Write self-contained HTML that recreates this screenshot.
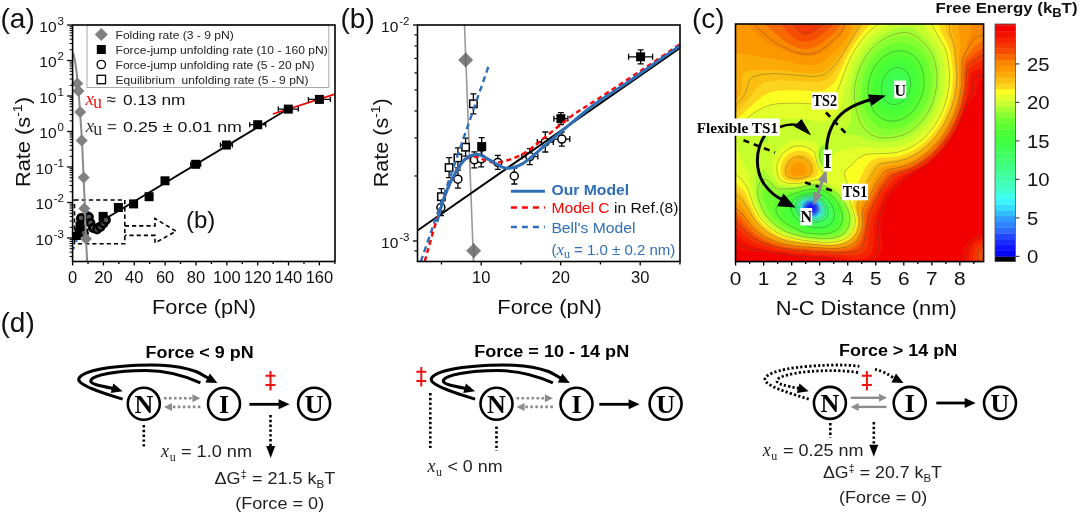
<!DOCTYPE html>
<html><head><meta charset="utf-8"><style>
html,body{margin:0;padding:0;background:#fff;overflow:hidden;}
svg{display:block;filter:blur(0.3px);}
.S{font-family:"Liberation Sans",sans-serif;}
.R{font-family:"Liberation Serif",serif;}
</style></head><body>
<svg width="1080" height="515" viewBox="0 0 1080 515">
<line x1="69.60" y1="256.56" x2="72.60" y2="256.56" stroke="#000" stroke-width="1.0"/>
<line x1="69.60" y1="252.13" x2="72.60" y2="252.13" stroke="#000" stroke-width="1.0"/>
<line x1="69.60" y1="248.69" x2="72.60" y2="248.69" stroke="#000" stroke-width="1.0"/>
<line x1="69.60" y1="245.88" x2="72.60" y2="245.88" stroke="#000" stroke-width="1.0"/>
<line x1="69.60" y1="243.50" x2="72.60" y2="243.50" stroke="#000" stroke-width="1.0"/>
<line x1="69.60" y1="241.44" x2="72.60" y2="241.44" stroke="#000" stroke-width="1.0"/>
<line x1="69.60" y1="239.62" x2="72.60" y2="239.62" stroke="#000" stroke-width="1.0"/>
<line x1="67.10" y1="238.00" x2="72.60" y2="238.00" stroke="#000" stroke-width="1.3"/>
<line x1="69.60" y1="227.31" x2="72.60" y2="227.31" stroke="#000" stroke-width="1.0"/>
<line x1="69.60" y1="221.06" x2="72.60" y2="221.06" stroke="#000" stroke-width="1.0"/>
<line x1="69.60" y1="216.63" x2="72.60" y2="216.63" stroke="#000" stroke-width="1.0"/>
<line x1="69.60" y1="213.19" x2="72.60" y2="213.19" stroke="#000" stroke-width="1.0"/>
<line x1="69.60" y1="210.38" x2="72.60" y2="210.38" stroke="#000" stroke-width="1.0"/>
<line x1="69.60" y1="208.00" x2="72.60" y2="208.00" stroke="#000" stroke-width="1.0"/>
<line x1="69.60" y1="205.94" x2="72.60" y2="205.94" stroke="#000" stroke-width="1.0"/>
<line x1="69.60" y1="204.12" x2="72.60" y2="204.12" stroke="#000" stroke-width="1.0"/>
<line x1="67.10" y1="202.50" x2="72.60" y2="202.50" stroke="#000" stroke-width="1.3"/>
<line x1="69.60" y1="191.81" x2="72.60" y2="191.81" stroke="#000" stroke-width="1.0"/>
<line x1="69.60" y1="185.56" x2="72.60" y2="185.56" stroke="#000" stroke-width="1.0"/>
<line x1="69.60" y1="181.13" x2="72.60" y2="181.13" stroke="#000" stroke-width="1.0"/>
<line x1="69.60" y1="177.69" x2="72.60" y2="177.69" stroke="#000" stroke-width="1.0"/>
<line x1="69.60" y1="174.88" x2="72.60" y2="174.88" stroke="#000" stroke-width="1.0"/>
<line x1="69.60" y1="172.50" x2="72.60" y2="172.50" stroke="#000" stroke-width="1.0"/>
<line x1="69.60" y1="170.44" x2="72.60" y2="170.44" stroke="#000" stroke-width="1.0"/>
<line x1="69.60" y1="168.62" x2="72.60" y2="168.62" stroke="#000" stroke-width="1.0"/>
<line x1="67.10" y1="167.00" x2="72.60" y2="167.00" stroke="#000" stroke-width="1.3"/>
<line x1="69.60" y1="156.31" x2="72.60" y2="156.31" stroke="#000" stroke-width="1.0"/>
<line x1="69.60" y1="150.06" x2="72.60" y2="150.06" stroke="#000" stroke-width="1.0"/>
<line x1="69.60" y1="145.63" x2="72.60" y2="145.63" stroke="#000" stroke-width="1.0"/>
<line x1="69.60" y1="142.19" x2="72.60" y2="142.19" stroke="#000" stroke-width="1.0"/>
<line x1="69.60" y1="139.38" x2="72.60" y2="139.38" stroke="#000" stroke-width="1.0"/>
<line x1="69.60" y1="137.00" x2="72.60" y2="137.00" stroke="#000" stroke-width="1.0"/>
<line x1="69.60" y1="134.94" x2="72.60" y2="134.94" stroke="#000" stroke-width="1.0"/>
<line x1="69.60" y1="133.12" x2="72.60" y2="133.12" stroke="#000" stroke-width="1.0"/>
<line x1="67.10" y1="131.50" x2="72.60" y2="131.50" stroke="#000" stroke-width="1.3"/>
<line x1="69.60" y1="120.81" x2="72.60" y2="120.81" stroke="#000" stroke-width="1.0"/>
<line x1="69.60" y1="114.56" x2="72.60" y2="114.56" stroke="#000" stroke-width="1.0"/>
<line x1="69.60" y1="110.13" x2="72.60" y2="110.13" stroke="#000" stroke-width="1.0"/>
<line x1="69.60" y1="106.69" x2="72.60" y2="106.69" stroke="#000" stroke-width="1.0"/>
<line x1="69.60" y1="103.88" x2="72.60" y2="103.88" stroke="#000" stroke-width="1.0"/>
<line x1="69.60" y1="101.50" x2="72.60" y2="101.50" stroke="#000" stroke-width="1.0"/>
<line x1="69.60" y1="99.44" x2="72.60" y2="99.44" stroke="#000" stroke-width="1.0"/>
<line x1="69.60" y1="97.62" x2="72.60" y2="97.62" stroke="#000" stroke-width="1.0"/>
<line x1="67.10" y1="96.00" x2="72.60" y2="96.00" stroke="#000" stroke-width="1.3"/>
<line x1="69.60" y1="85.31" x2="72.60" y2="85.31" stroke="#000" stroke-width="1.0"/>
<line x1="69.60" y1="79.06" x2="72.60" y2="79.06" stroke="#000" stroke-width="1.0"/>
<line x1="69.60" y1="74.63" x2="72.60" y2="74.63" stroke="#000" stroke-width="1.0"/>
<line x1="69.60" y1="71.19" x2="72.60" y2="71.19" stroke="#000" stroke-width="1.0"/>
<line x1="69.60" y1="68.38" x2="72.60" y2="68.38" stroke="#000" stroke-width="1.0"/>
<line x1="69.60" y1="66.00" x2="72.60" y2="66.00" stroke="#000" stroke-width="1.0"/>
<line x1="69.60" y1="63.94" x2="72.60" y2="63.94" stroke="#000" stroke-width="1.0"/>
<line x1="69.60" y1="62.12" x2="72.60" y2="62.12" stroke="#000" stroke-width="1.0"/>
<line x1="67.10" y1="60.50" x2="72.60" y2="60.50" stroke="#000" stroke-width="1.3"/>
<line x1="69.60" y1="49.81" x2="72.60" y2="49.81" stroke="#000" stroke-width="1.0"/>
<line x1="69.60" y1="43.56" x2="72.60" y2="43.56" stroke="#000" stroke-width="1.0"/>
<line x1="69.60" y1="39.13" x2="72.60" y2="39.13" stroke="#000" stroke-width="1.0"/>
<line x1="69.60" y1="35.69" x2="72.60" y2="35.69" stroke="#000" stroke-width="1.0"/>
<line x1="69.60" y1="32.88" x2="72.60" y2="32.88" stroke="#000" stroke-width="1.0"/>
<line x1="69.60" y1="30.50" x2="72.60" y2="30.50" stroke="#000" stroke-width="1.0"/>
<line x1="69.60" y1="28.44" x2="72.60" y2="28.44" stroke="#000" stroke-width="1.0"/>
<line x1="69.60" y1="26.62" x2="72.60" y2="26.62" stroke="#000" stroke-width="1.0"/>
<line x1="67.10" y1="25.00" x2="72.60" y2="25.00" stroke="#000" stroke-width="1.3"/>
<line x1="72.60" y1="261.50" x2="72.60" y2="265.50" stroke="#000" stroke-width="1.3"/>
<line x1="88.02" y1="261.50" x2="88.02" y2="264.00" stroke="#000" stroke-width="1.3"/>
<line x1="103.45" y1="261.50" x2="103.45" y2="265.50" stroke="#000" stroke-width="1.3"/>
<line x1="118.88" y1="261.50" x2="118.88" y2="264.00" stroke="#000" stroke-width="1.3"/>
<line x1="134.30" y1="261.50" x2="134.30" y2="265.50" stroke="#000" stroke-width="1.3"/>
<line x1="149.72" y1="261.50" x2="149.72" y2="264.00" stroke="#000" stroke-width="1.3"/>
<line x1="165.15" y1="261.50" x2="165.15" y2="265.50" stroke="#000" stroke-width="1.3"/>
<line x1="180.57" y1="261.50" x2="180.57" y2="264.00" stroke="#000" stroke-width="1.3"/>
<line x1="196.00" y1="261.50" x2="196.00" y2="265.50" stroke="#000" stroke-width="1.3"/>
<line x1="211.42" y1="261.50" x2="211.42" y2="264.00" stroke="#000" stroke-width="1.3"/>
<line x1="226.85" y1="261.50" x2="226.85" y2="265.50" stroke="#000" stroke-width="1.3"/>
<line x1="242.28" y1="261.50" x2="242.28" y2="264.00" stroke="#000" stroke-width="1.3"/>
<line x1="257.70" y1="261.50" x2="257.70" y2="265.50" stroke="#000" stroke-width="1.3"/>
<line x1="273.12" y1="261.50" x2="273.12" y2="264.00" stroke="#000" stroke-width="1.3"/>
<line x1="288.55" y1="261.50" x2="288.55" y2="265.50" stroke="#000" stroke-width="1.3"/>
<line x1="303.98" y1="261.50" x2="303.98" y2="264.00" stroke="#000" stroke-width="1.3"/>
<line x1="319.40" y1="261.50" x2="319.40" y2="265.50" stroke="#000" stroke-width="1.3"/>
<line x1="334.83" y1="261.50" x2="334.83" y2="264.00" stroke="#000" stroke-width="1.3"/>
<text class="S" x="72.6" y="283.3" font-size="16.5" text-anchor="middle" fill="#111">0</text>
<text class="S" x="103.4" y="283.3" font-size="16.5" text-anchor="middle" fill="#111">20</text>
<text class="S" x="134.3" y="283.3" font-size="16.5" text-anchor="middle" fill="#111">40</text>
<text class="S" x="165.1" y="283.3" font-size="16.5" text-anchor="middle" fill="#111">60</text>
<text class="S" x="196.0" y="283.3" font-size="16.5" text-anchor="middle" fill="#111">80</text>
<text class="S" x="226.8" y="283.3" font-size="16.5" text-anchor="middle" fill="#111">100</text>
<text class="S" x="257.7" y="283.3" font-size="16.5" text-anchor="middle" fill="#111">120</text>
<text class="S" x="288.5" y="283.3" font-size="16.5" text-anchor="middle" fill="#111">140</text>
<text class="S" x="319.4" y="283.3" font-size="16.5" text-anchor="middle" fill="#111">160</text>
<text class="S" x="64" y="244.5" font-size="15.5" text-anchor="end" fill="#111">10<tspan font-size="11.5" dx="1" dy="-7">-3</tspan></text>
<text class="S" x="64" y="209.0" font-size="15.5" text-anchor="end" fill="#111">10<tspan font-size="11.5" dx="1" dy="-7">-2</tspan></text>
<text class="S" x="64" y="173.5" font-size="15.5" text-anchor="end" fill="#111">10<tspan font-size="11.5" dx="1" dy="-7">-1</tspan></text>
<text class="S" x="64" y="138.0" font-size="15.5" text-anchor="end" fill="#111">10<tspan font-size="11.5" dx="1" dy="-7">0</tspan></text>
<text class="S" x="64" y="102.5" font-size="15.5" text-anchor="end" fill="#111">10<tspan font-size="11.5" dx="1" dy="-7">1</tspan></text>
<text class="S" x="64" y="67.0" font-size="15.5" text-anchor="end" fill="#111">10<tspan font-size="11.5" dx="1" dy="-7">2</tspan></text>
<text class="S" x="64" y="31.5" font-size="15.5" text-anchor="end" fill="#111">10<tspan font-size="11.5" dx="1" dy="-7">3</tspan></text>
<text class="S" x="152.0" y="314.3" font-size="20" textLength="104" lengthAdjust="spacingAndGlyphs" fill="#111">Force (pN)</text>
<text class="S" transform="translate(29.5,187) rotate(-90)" font-size="20" fill="#111" textLength="90" lengthAdjust="spacingAndGlyphs">Rate (s<tspan font-size="13" dy="-8">-1</tspan><tspan dy="8">)</tspan></text>
<text class="S" x="0.5" y="28.0" font-size="28" fill="#111">(a)</text>
<text class="S" x="186.0" y="228.2" font-size="24" fill="#111">(b)</text>
<rect x="87" y="25" width="241.8" height="62.5" fill="#fff" stroke="#aaa" stroke-width="1"/>
<path d="M94.8,34.5 L101.3,28.0 L107.8,34.5 L101.3,41.0Z" fill="#808080"/>
<rect x="96.8" y="45.0" width="9" height="9" fill="#000"/>
<circle cx="101.3" cy="64.5" r="4.2" fill="#fff" stroke="#000" stroke-width="1.3"/>
<rect x="97.1" y="75.3" width="8.4" height="8.4" fill="#fff" stroke="#000" stroke-width="1.3"/>
<text class="S" x="115.5" y="38.7" font-size="11.8" textLength="118.3" lengthAdjust="spacingAndGlyphs" fill="#222">Folding rate (3 - 9 pN)</text>
<text class="S" x="115.5" y="53.7" font-size="11.8" textLength="212.3" lengthAdjust="spacingAndGlyphs" fill="#222">Force-jump unfolding rate (10 - 160 pN)</text>
<text class="S" x="115.5" y="68.7" font-size="11.8" textLength="199" lengthAdjust="spacingAndGlyphs" fill="#222">Force-jump unfolding rate (5 - 20 pN)</text>
<text class="S" x="115.5" y="83.7" font-size="11.8" textLength="193" lengthAdjust="spacingAndGlyphs" fill="#222">Equilibrium&#160; unfolding rate (5 - 9 pN)</text>
<path d="M74.5,200 H124.8 V243.8 H74.5 Z" fill="none" stroke="#000" stroke-width="1.6" stroke-dasharray="4.2,3"/>
<path d="M124.8,225.9 H155 V218.5 L176,231.2 L155,243 V235.4 H124.8" fill="none" stroke="#000" stroke-width="1.6" stroke-dasharray="4.2,3"/>
<path d="M72.6,238.5 L288,109" fill="none" stroke="#000" stroke-width="1.8"/>
<path d="M272.8,114 L335,94.2" fill="none" stroke="#e00" stroke-width="1.8"/>
<circle cx="88.2" cy="212" r="1.3" fill="#2f6fc0"/>
<circle cx="78" cy="235.6" r="1.3" fill="#2f6fc0"/>
<circle cx="76.4" cy="241" r="1.3" fill="#2f6fc0"/>
<circle cx="73.6" cy="247.9" r="1.3" fill="#2f6fc0"/>
<path d="M308.4,99.4 H330.4 M308.4,96.9 V101.9 M330.4,96.9 V101.9" stroke="#000" stroke-width="1.3" fill="none"/>
<rect x="314.9" y="94.9" width="9" height="9" fill="#000"/>
<path d="M278.3,109.1 H298.3 M278.3,106.6 V111.6 M298.3,106.6 V111.6" stroke="#000" stroke-width="1.3" fill="none"/>
<rect x="283.8" y="104.6" width="9" height="9" fill="#000"/>
<path d="M249.7,124.7 H265.7 M249.7,122.2 V127.2 M265.7,122.2 V127.2" stroke="#000" stroke-width="1.3" fill="none"/>
<rect x="253.2" y="120.2" width="9" height="9" fill="#000"/>
<path d="M220.4,145 H232.4 M220.4,142.5 V147.5 M232.4,142.5 V147.5" stroke="#000" stroke-width="1.3" fill="none"/>
<rect x="221.9" y="140.5" width="9" height="9" fill="#000"/>
<path d="M190.7,164.3 H200.7 M190.7,161.8 V166.8 M200.7,161.8 V166.8" stroke="#000" stroke-width="1.3" fill="none"/>
<rect x="191.2" y="159.8" width="9" height="9" fill="#000"/>
<path d="M162,180.8 H168 M162,178.3 V183.3 M168,178.3 V183.3" stroke="#000" stroke-width="1.3" fill="none"/>
<rect x="160.5" y="176.3" width="9" height="9" fill="#000"/>
<path d="M147.1,196.7 H151.1 M147.1,194.2 V199.2 M151.1,194.2 V199.2" stroke="#000" stroke-width="1.3" fill="none"/>
<rect x="144.6" y="192.2" width="9" height="9" fill="#000"/>
<path d="M131.6,203.9 H135.6 M131.6,201.4 V206.4 M135.6,201.4 V206.4" stroke="#000" stroke-width="1.3" fill="none"/>
<rect x="129.1" y="199.4" width="9" height="9" fill="#000"/>
<path d="M116.4,207.5 H120.4 M116.4,205.0 V210.0 M120.4,205.0 V210.0" stroke="#000" stroke-width="1.3" fill="none"/>
<rect x="113.9" y="203.0" width="9" height="9" fill="#000"/>
<path d="M101.1,216.4 H105.1 M101.1,213.9 V218.9 M105.1,213.9 V218.9" stroke="#000" stroke-width="1.3" fill="none"/>
<rect x="98.6" y="211.9" width="9" height="9" fill="#000"/>
<rect x="74.5" y="228" width="8" height="8" fill="#000"/>
<rect x="75.5" y="222" width="8" height="8" fill="#000"/>
<rect x="76.5" y="217" width="8" height="8" fill="#000"/>
<rect x="78" y="225" width="8" height="8" fill="#000"/>
<rect x="73" y="232" width="8" height="8" fill="#000"/>
<circle cx="89" cy="217" r="3.6" fill="#555" stroke="#000" stroke-width="2.6"/>
<circle cx="90.5" cy="223" r="3.6" fill="#555" stroke="#000" stroke-width="2.6"/>
<circle cx="93" cy="228" r="3.6" fill="#555" stroke="#000" stroke-width="2.6"/>
<circle cx="97" cy="229.5" r="3.6" fill="#555" stroke="#000" stroke-width="2.6"/>
<circle cx="100.5" cy="227" r="3.6" fill="#555" stroke="#000" stroke-width="2.6"/>
<circle cx="103.5" cy="223.5" r="3.6" fill="#555" stroke="#000" stroke-width="2.6"/>
<circle cx="106" cy="220" r="3.6" fill="#555" stroke="#000" stroke-width="2.6"/>
<circle cx="84" cy="233" r="3.6" fill="#555" stroke="#000" stroke-width="2.6"/>
<circle cx="81" cy="218" r="3.6" fill="#555" stroke="#000" stroke-width="2.6"/>
<path d="M73.2,53 C76,62 77,75 78,86 C79.5,100 80.5,120 82,140 C83,160 84,185 85,210 C85.6,230 86.5,250 87.2,261.5" fill="none" stroke="#8a8a8a" stroke-width="2"/>
<path d="M71.3,83.5 L77.3,77.5 L83.3,83.5 L77.3,89.5Z" fill="#808080"/>
<path d="M72.5,91 L78.5,85 L84.5,91 L78.5,97Z" fill="#808080"/>
<path d="M74.2,112 L80.2,106 L86.2,112 L80.2,118Z" fill="#808080"/>
<path d="M75.7,140.6 L81.7,134.6 L87.7,140.6 L81.7,146.6Z" fill="#808080"/>
<path d="M77.7,177.5 L83.7,171.5 L89.7,177.5 L83.7,183.5Z" fill="#808080"/>
<path d="M78.4,208.4 L84.4,202.4 L90.4,208.4 L84.4,214.4Z" fill="#808080"/>
<path d="M80,238.8 L86,232.8 L92,238.8 L86,244.8Z" fill="#808080"/>
<text class="R" x="85.5" y="104.7" font-size="19" font-style="italic" fill="#e11">x</text>
<text class="R" x="93" y="108.2" font-size="18" fill="#e11">u</text>
<text class="S" x="106.5" y="104.7" font-size="17" fill="#222">&#8776;</text>
<text class="S" x="123.0" y="104.7" font-size="15" textLength="62.5" lengthAdjust="spacingAndGlyphs" fill="#111">0.13 nm</text>
<text class="R" x="85.8" y="131.7" font-size="19" font-style="italic" fill="#333">x</text>
<text class="R" x="93.3" y="135.2" font-size="18" fill="#333">u</text>
<text class="S" x="107" y="131.7" font-size="17" fill="#444">=</text>
<text class="S" x="123.0" y="131.7" font-size="15" textLength="119" lengthAdjust="spacingAndGlyphs" fill="#111">0.25 &#177; 0.01 nm</text>
<rect x="72.6" y="25.0" width="262.4" height="236.5" fill="none" stroke="#000" stroke-width="1.6"/>
<line x1="413.00" y1="25.00" x2="417.50" y2="25.00" stroke="#000" stroke-width="1.3"/>
<line x1="413.00" y1="241.00" x2="417.50" y2="241.00" stroke="#000" stroke-width="1.3"/>
<line x1="414.50" y1="175.98" x2="417.50" y2="175.98" stroke="#000" stroke-width="1.2"/>
<line x1="414.50" y1="137.94" x2="417.50" y2="137.94" stroke="#000" stroke-width="1.2"/>
<line x1="414.50" y1="110.96" x2="417.50" y2="110.96" stroke="#000" stroke-width="1.2"/>
<line x1="414.50" y1="90.02" x2="417.50" y2="90.02" stroke="#000" stroke-width="1.2"/>
<line x1="414.50" y1="72.92" x2="417.50" y2="72.92" stroke="#000" stroke-width="1.2"/>
<line x1="414.50" y1="58.46" x2="417.50" y2="58.46" stroke="#000" stroke-width="1.2"/>
<line x1="414.50" y1="45.93" x2="417.50" y2="45.93" stroke="#000" stroke-width="1.2"/>
<line x1="414.50" y1="250.88" x2="417.50" y2="250.88" stroke="#000" stroke-width="1.2"/>
<line x1="414.50" y1="34.88" x2="417.50" y2="34.88" stroke="#000" stroke-width="1.2"/>
<line x1="441.45" y1="261.50" x2="441.45" y2="264.50" stroke="#000" stroke-width="1.3"/>
<line x1="481.20" y1="261.50" x2="481.20" y2="265.50" stroke="#000" stroke-width="1.3"/>
<line x1="520.95" y1="261.50" x2="520.95" y2="264.50" stroke="#000" stroke-width="1.3"/>
<line x1="560.70" y1="261.50" x2="560.70" y2="265.50" stroke="#000" stroke-width="1.3"/>
<line x1="600.45" y1="261.50" x2="600.45" y2="264.50" stroke="#000" stroke-width="1.3"/>
<line x1="640.20" y1="261.50" x2="640.20" y2="265.50" stroke="#000" stroke-width="1.3"/>
<line x1="679.95" y1="261.50" x2="679.95" y2="264.50" stroke="#000" stroke-width="1.3"/>
<text class="S" x="481.2" y="283.3" font-size="16.5" text-anchor="middle" fill="#111">10</text>
<text class="S" x="560.7" y="283.3" font-size="16.5" text-anchor="middle" fill="#111">20</text>
<text class="S" x="640.2" y="283.3" font-size="16.5" text-anchor="middle" fill="#111">30</text>
<text class="S" x="409.5" y="31.5" font-size="15.5" text-anchor="end" fill="#111">10<tspan font-size="11.5" dx="1" dy="-7">-2</tspan></text>
<text class="S" x="409.5" y="247.5" font-size="15.5" text-anchor="end" fill="#111">10<tspan font-size="11.5" dx="1" dy="-7">-3</tspan></text>
<text class="S" x="497.3" y="314.4" font-size="20" textLength="104.5" lengthAdjust="spacingAndGlyphs" fill="#111">Force (pN)</text>
<text class="S" transform="translate(388,187.2) rotate(-90)" font-size="20" fill="#111" textLength="89" lengthAdjust="spacingAndGlyphs">Rate (s<tspan font-size="13" dy="-8">-1</tspan><tspan dy="8">)</tspan></text>
<text class="S" x="340.5" y="28.0" font-size="28" fill="#111">(b)</text>
<path d="M464.5,25 L473.5,261.5" stroke="#999" stroke-width="1.6" fill="none"/>
<path d="M458.1,60.1 L465.6,52.6 L473.1,60.1 L465.6,67.6Z" fill="#7f7f7f"/>
<path d="M465.6,52.6 L465.6,67.6" stroke="#666" stroke-width="1.2"/>
<path d="M466.2,250.7 L473.7,243.2 L481.2,250.7 L473.7,258.2Z" fill="#7f7f7f"/>
<path d="M473.7,243.2 L473.7,258.2" stroke="#666" stroke-width="1.2"/>
<path d="M441.4,188.7 V204.7 M438.4,188.7 H444.4 M438.4,204.7 H444.4" stroke="#000" stroke-width="1.3" fill="none"/>
<path d="M449.1,157.6 V177.6 M446.1,157.6 H452.1 M446.1,177.6 H452.1" stroke="#000" stroke-width="1.3" fill="none"/>
<path d="M457.9,147.9 V167.9 M454.9,147.9 H460.9 M454.9,167.9 H460.9" stroke="#000" stroke-width="1.3" fill="none"/>
<path d="M465.6,138.2 V156.2 M462.6,138.2 H468.6 M462.6,156.2 H468.6" stroke="#000" stroke-width="1.3" fill="none"/>
<path d="M473.4,93.8 V113.8 M470.4,93.8 H476.4 M470.4,113.8 H476.4" stroke="#000" stroke-width="1.3" fill="none"/>
<path d="M440.9,199.5 V215.5 M437.9,199.5 H443.9 M437.9,215.5 H443.9" stroke="#000" stroke-width="1.3" fill="none"/>
<path d="M457.9,170.2 V188.2 M454.9,170.2 H460.9 M454.9,188.2 H460.9" stroke="#000" stroke-width="1.3" fill="none"/>
<path d="M474.4,151.8 V167.8 M471.4,151.8 H477.4 M471.4,167.8 H477.4" stroke="#000" stroke-width="1.3" fill="none"/>
<path d="M481.2,150.8 V166.8 M478.2,150.8 H484.2 M478.2,166.8 H484.2" stroke="#000" stroke-width="1.3" fill="none"/>
<path d="M497.8,155.4 V169.4 M494.8,155.4 H500.8 M494.8,169.4 H500.8" stroke="#000" stroke-width="1.3" fill="none"/>
<path d="M514.3,168 V184 M511.29999999999995,168 H517.3 M511.29999999999995,184 H517.3" stroke="#000" stroke-width="1.3" fill="none"/>
<path d="M529.8,148.6 V164.6 M526.8,148.6 H532.8 M526.8,164.6 H532.8" stroke="#000" stroke-width="1.3" fill="none"/>
<path d="M545.3,132 V152 M542.3,132 H548.3 M542.3,152 H548.3" stroke="#000" stroke-width="1.3" fill="none"/>
<path d="M561.8,132.1 V146.1 M558.8,132.1 H564.8 M558.8,146.1 H564.8" stroke="#000" stroke-width="1.3" fill="none"/>
<path d="M521.8,156.6 H537.8 M521.8,153.6 V159.6 M537.8,153.6 V159.6" stroke="#000" stroke-width="1.3" fill="none"/>
<path d="M537.3,142 H553.3 M537.3,139 V145 M553.3,139 V145" stroke="#000" stroke-width="1.3" fill="none"/>
<path d="M553.8,139.1 H569.8 M553.8,136.1 V142.1 M569.8,136.1 V142.1" stroke="#000" stroke-width="1.3" fill="none"/>
<path d="M481.7,137.6 V155.6 M478.7,137.6 H484.7 M478.7,155.6 H484.7" stroke="#000" stroke-width="1.3" fill="none"/>
<path d="M560.9,112.7 V124.7 M557.9,112.7 H563.9 M557.9,124.7 H563.9 M553.9,118.7 H567.9 M553.9,115.7 V121.7 M567.9,115.7 V121.7" stroke="#000" stroke-width="1.3" fill="none"/>
<path d="M640.6,49.8 V63.8 M637.6,49.8 H643.6 M637.6,63.8 H643.6 M628.6,56.8 H652.6 M628.6,53.8 V59.8 M652.6,53.8 V59.8" stroke="#000" stroke-width="1.3" fill="none"/>
<circle cx="440.9" cy="207.5" r="4" fill="#fff" stroke="#000" stroke-width="1.5"/>
<circle cx="457.9" cy="179.2" r="4" fill="#fff" stroke="#000" stroke-width="1.5"/>
<circle cx="474.4" cy="159.8" r="4" fill="#fff" stroke="#000" stroke-width="1.5"/>
<circle cx="481.2" cy="158.8" r="4" fill="#fff" stroke="#000" stroke-width="1.5"/>
<circle cx="497.8" cy="162.4" r="4" fill="#fff" stroke="#000" stroke-width="1.5"/>
<circle cx="514.3" cy="176" r="4" fill="#fff" stroke="#000" stroke-width="1.5"/>
<circle cx="529.8" cy="156.6" r="4" fill="#fff" stroke="#000" stroke-width="1.5"/>
<circle cx="545.3" cy="142" r="4" fill="#fff" stroke="#000" stroke-width="1.5"/>
<circle cx="561.8" cy="139.1" r="4" fill="#fff" stroke="#000" stroke-width="1.5"/>
<rect x="437.7" y="193.0" width="7.4" height="7.4" fill="#fff" stroke="#000" stroke-width="1.5"/>
<rect x="445.40000000000003" y="163.9" width="7.4" height="7.4" fill="#fff" stroke="#000" stroke-width="1.5"/>
<rect x="454.2" y="154.20000000000002" width="7.4" height="7.4" fill="#fff" stroke="#000" stroke-width="1.5"/>
<rect x="461.90000000000003" y="143.5" width="7.4" height="7.4" fill="#fff" stroke="#000" stroke-width="1.5"/>
<rect x="469.7" y="100.1" width="7.4" height="7.4" fill="#fff" stroke="#000" stroke-width="1.5"/>
<rect x="477.2" y="142.1" width="9" height="9" fill="#000"/>
<rect x="556.4" y="114.2" width="9" height="9" fill="#000"/>
<rect x="636.1" y="52.3" width="9" height="9" fill="#000"/>
<path d="M417.5,230.5 L680,48" stroke="#000" stroke-width="2" fill="none"/>
<path d="M420.8,261.5 L488.3,66.9" stroke="#2e6fb8" stroke-width="2.4" stroke-dasharray="6,4" fill="none"/>
<path d="M424.8,261.0 C426.8,254.1 432.8,232.3 436.9,219.6 C441.0,206.9 445.3,194.4 449.5,185.0 C453.7,175.6 458.1,167.8 462.0,163.0 C465.9,158.2 469.3,157.0 473.0,156.5 C476.7,156.0 479.8,158.8 484.0,159.8 C488.2,160.8 491.8,163.4 498.2,162.5 C504.6,161.6 514.9,158.2 522.6,154.1 C530.3,150.0 536.1,144.1 544.3,137.8 C552.4,131.5 562.4,122.7 571.5,116.1 C580.6,109.5 587.4,105.8 598.7,98.4 C610.0,91.0 625.9,80.7 639.5,71.6 C653.1,62.5 673.4,48.6 680.2,44.0" stroke="#f00" stroke-width="2.4" stroke-dasharray="5,3.5" fill="none"/>
<path d="M437.0,222.0 C438.3,217.5 441.9,203.3 445.0,195.0 C448.1,186.7 452.3,178.1 455.8,172.0 C459.3,165.9 462.3,161.4 466.0,158.5 C469.7,155.6 473.7,154.2 477.8,154.5 C481.9,154.8 485.6,158.1 490.4,160.4 C495.1,162.7 500.9,167.7 506.3,168.2 C511.7,168.7 516.3,167.3 522.6,163.6 C528.9,159.9 537.5,151.7 544.3,146.0 C551.1,140.3 555.2,136.5 563.4,129.7 C571.6,122.9 582.9,112.9 593.3,105.2 C603.7,97.5 615.9,90.3 625.9,83.5 C635.9,76.7 644.0,70.8 653.0,64.5 C662.0,58.1 675.7,48.6 680.2,45.4" stroke="#2e6fb8" stroke-width="3" fill="none"/>
<line x1="510.90" y1="191.20" x2="544.90" y2="191.20" stroke="#2e6fb8" stroke-width="3"/>
<text class="S" x="551.4" y="194.6" font-size="15" font-weight="bold" textLength="77.8" lengthAdjust="spacingAndGlyphs" fill="#2e6fb8">Our Model</text>
<path d="M510.9,207.5 H544.9" stroke="#f00" stroke-width="2.5" stroke-dasharray="6,5"/>
<text class="S" x="551.4" y="213.2" font-size="15" fill="#f00" textLength="127" lengthAdjust="spacingAndGlyphs">Model C <tspan fill="#111">in Ref.(8)</tspan></text>
<path d="M510.9,226.9 H544.9" stroke="#2e6fb8" stroke-width="2.5" stroke-dasharray="6,5"/>
<text class="S" x="551.4" y="233.0" font-size="15" textLength="84" lengthAdjust="spacingAndGlyphs" fill="#2e6fb8">Bell's Model</text>
<text class="S" x="551.4" y="255" font-size="15" fill="#2e6fb8">(<tspan class="R" font-style="italic" font-size="17">x</tspan><tspan class="R" font-size="12" dy="3">u</tspan><tspan dy="-3"> = 1.0 &#177; 0.2 nm)</tspan></text>
<rect x="417.5" y="25.0" width="262.5" height="236.5" fill="none" stroke="#000" stroke-width="1.6"/>
<clipPath id="hc"><rect x="735.5" y="24.0" width="248.1" height="237.6"/></clipPath>
<g clip-path="url(#hc)">
<rect x="735.5" y="24.0" width="248.1" height="237.6" fill="#f20000"/>
<path d="M871.1,261.6 L873.5,260.5 L877.5,257.0 L880.9,253.0 L882.3,250.0 L882.8,245.0 L880.6,231.0 L880.8,222.0 L883.1,212.0 L888.7,197.0 L891.5,193.4 L906.3,178.0 L920.5,169.6 L929.5,163.2 L937.6,156.0 L944.8,148.0 L950.7,140.0 L956.0,131.0 L960.8,121.0 L967.5,104.6 L975.5,95.0 L976.9,91.0 L978.5,82.6 L980.5,80.5 L983.5,79.3 L983.6,24.0 L735.5,24.0 L735.5,247.8 L739.5,249.6 L748.5,251.2 L764.5,252.4 L774.5,254.4 L784.5,254.8 L805.5,258.7 L824.5,258.0 L830.4,259.0 L839.5,261.6 L871.1,261.6ZM983.6,261.6 L983.6,231.2 L983.5,232.0 L972.5,238.3 L968.5,241.8 L965.9,245.0 L964.2,248.0 L962.9,252.0 L962.3,261.6 L983.6,261.6Z" fill="#f41000" fill-rule="evenodd"/>
<path d="M863.0,259.0 L866.5,257.6 L868.8,256.0 L871.2,253.0 L872.6,250.0 L873.5,245.0 L873.5,231.1 L875.5,219.0 L877.7,212.0 L885.5,193.3 L899.7,178.0 L920.5,167.5 L927.5,162.7 L934.3,157.0 L940.2,151.0 L946.0,144.0 L951.4,136.0 L955.9,128.0 L962.0,114.0 L968.1,95.0 L970.8,74.0 L971.5,72.8 L973.9,71.0 L983.6,67.5 L983.6,24.0 L735.5,24.0 L735.5,234.4 L743.1,241.0 L749.5,244.7 L756.5,247.1 L773.5,251.2 L795.5,254.3 L804.5,254.0 L814.5,255.7 L825.5,255.5 L851.5,259.7 L857.5,259.8 L863.0,259.0ZM983.6,261.6 L983.6,237.1 L983.5,237.6 L975.8,242.0 L971.9,246.0 L969.5,251.0 L968.6,257.0 L968.9,261.6 L983.6,261.6Z" fill="#f52300" fill-rule="evenodd"/>
<path d="M857.1,255.0 L860.8,254.0 L863.5,252.5 L866.5,248.3 L867.7,244.0 L868.5,234.0 L872.0,216.0 L880.9,195.0 L884.5,189.2 L895.5,177.0 L916.5,167.9 L923.5,163.7 L930.9,158.0 L937.5,151.7 L943.4,145.0 L948.5,137.9 L953.3,130.0 L959.8,116.0 L964.8,100.0 L967.0,89.0 L968.8,70.0 L970.0,68.0 L972.5,66.0 L983.6,60.3 L983.6,24.0 L735.5,24.0 L735.5,227.4 L746.5,237.2 L752.5,241.4 L759.5,244.4 L774.5,248.9 L795.5,252.1 L805.5,252.1 L815.5,253.6 L825.5,253.5 L838.5,255.1 L852.5,255.4 L857.1,255.0ZM983.6,261.6 L983.6,241.4 L978.5,245.0 L975.8,248.0 L973.9,252.0 L973.4,256.0 L974.1,261.6 L983.6,261.6Z" fill="#f53700" fill-rule="evenodd"/>
<path d="M851.7,252.0 L855.5,251.2 L858.5,249.8 L860.7,248.0 L862.5,245.4 L864.0,241.0 L866.7,228.0 L868.2,217.0 L869.4,213.0 L879.9,191.0 L887.5,180.7 L890.7,177.0 L893.3,175.0 L912.5,168.1 L920.1,164.0 L927.2,159.0 L934.1,153.0 L940.5,146.2 L946.0,139.0 L951.1,131.0 L958.3,116.0 L963.1,101.0 L965.5,88.0 L966.6,70.0 L967.5,66.0 L969.5,63.4 L972.5,61.0 L983.6,54.0 L983.6,24.0 L824.9,24.0 L812.0,32.0 L808.5,33.5 L805.5,34.0 L802.5,33.3 L799.5,31.5 L796.5,28.6 L793.0,24.0 L735.5,24.0 L735.5,221.5 L748.5,234.0 L754.5,238.6 L762.5,242.6 L774.5,246.7 L793.5,250.1 L805.5,250.6 L814.5,251.7 L825.5,251.8 L837.5,252.9 L851.7,252.0ZM983.6,261.6 L983.6,245.6 L979.3,250.0 L978.3,252.0 L977.7,255.0 L978.3,259.0 L979.5,261.6 L983.6,261.6Z" fill="#f54c00" fill-rule="evenodd"/>
<path d="M838.3,251.0 L847.5,250.0 L852.5,248.9 L856.5,246.8 L859.5,243.6 L861.5,239.3 L864.4,230.0 L865.2,225.0 L865.6,216.0 L867.0,211.0 L878.5,188.2 L887.5,176.0 L891.5,173.0 L903.5,169.7 L911.5,166.7 L923.1,160.0 L929.6,155.0 L936.5,148.3 L942.5,141.2 L947.5,134.1 L955.5,119.0 L958.6,111.0 L961.3,102.0 L964.1,87.0 L964.9,67.0 L965.9,63.0 L968.5,59.5 L974.5,53.9 L978.5,50.8 L983.6,48.0 L983.6,24.0 L833.6,24.0 L829.5,28.6 L815.5,38.7 L810.5,41.0 L805.5,41.8 L799.5,40.8 L793.5,37.7 L788.1,33.0 L780.6,24.0 L735.5,24.0 L735.5,216.1 L740.5,220.6 L749.8,231.0 L754.5,235.1 L762.5,240.0 L772.5,244.1 L781.5,246.5 L794.5,248.6 L815.5,250.2 L838.3,251.0ZM983.6,259.0 L983.6,250.5 L982.2,255.0 L983.6,259.7 L983.6,259.0Z" fill="#f76900" fill-rule="evenodd"/>
<path d="M841.9,249.0 L848.5,247.7 L852.5,246.2 L855.6,244.0 L858.7,240.0 L861.5,234.1 L863.1,229.0 L863.8,223.0 L863.5,214.0 L864.6,210.0 L876.8,186.0 L885.3,174.0 L887.5,172.0 L889.6,171.0 L901.5,168.3 L908.5,165.9 L914.8,163.0 L921.5,159.0 L928.5,153.7 L935.5,147.0 L941.4,140.0 L946.5,132.7 L950.5,125.8 L954.5,117.4 L957.6,109.0 L960.2,100.0 L962.7,85.0 L963.1,65.0 L963.8,61.0 L965.5,57.7 L973.5,47.6 L977.5,44.2 L983.6,41.0 L983.6,24.0 L840.7,24.0 L838.5,28.2 L835.5,32.0 L820.5,44.1 L813.5,47.8 L809.5,48.8 L805.5,49.0 L801.5,48.7 L796.5,47.4 L787.4,43.0 L779.2,37.0 L765.0,24.0 L735.5,24.0 L735.5,211.0 L740.5,215.3 L749.9,227.0 L756.0,233.0 L763.5,238.0 L773.5,242.5 L782.5,245.0 L795.5,247.2 L830.5,249.5 L841.9,249.0Z" fill="#f98700" fill-rule="evenodd"/>
<path d="M838.3,248.0 L846.5,246.4 L851.5,244.3 L855.5,241.0 L858.5,236.8 L860.8,232.0 L862.1,227.0 L862.4,222.0 L861.6,213.0 L862.5,208.6 L874.7,184.0 L882.9,172.0 L885.2,170.0 L887.5,168.9 L899.5,166.7 L907.5,164.2 L914.5,161.0 L920.5,157.4 L927.7,152.0 L934.5,145.5 L940.8,138.0 L946.5,129.5 L953.5,115.4 L958.5,100.0 L961.2,83.0 L961.5,59.4 L968.5,41.0 L970.2,34.0 L971.5,24.0 L847.0,24.0 L844.2,31.0 L841.5,35.4 L836.5,40.6 L827.1,49.0 L822.5,52.4 L817.5,54.9 L812.5,56.3 L807.5,56.7 L801.5,56.3 L794.5,54.6 L772.5,45.6 L767.0,42.0 L755.5,32.8 L746.6,24.0 L735.5,24.0 L735.5,206.2 L742.5,212.5 L750.8,224.0 L756.5,230.2 L764.3,236.0 L773.5,240.5 L783.5,243.7 L795.5,245.8 L826.5,248.1 L838.3,248.0Z" fill="#fb9800" fill-rule="evenodd"/>
<path d="M835.6,247.0 L843.5,245.7 L849.5,243.5 L854.1,240.0 L857.8,235.0 L860.0,230.0 L861.0,225.0 L861.0,220.0 L859.8,211.0 L860.5,206.8 L872.5,182.0 L880.5,169.8 L882.5,168.0 L885.5,166.7 L897.5,164.8 L906.5,162.3 L913.5,159.2 L920.4,155.0 L927.5,149.5 L934.5,142.6 L940.7,135.0 L946.5,125.8 L950.9,117.0 L954.5,107.5 L957.1,98.0 L958.9,88.0 L959.7,76.0 L959.1,59.0 L960.7,45.0 L958.8,31.0 L958.7,24.0 L852.9,24.0 L849.7,32.0 L847.1,37.0 L842.5,43.5 L836.5,50.4 L829.5,57.1 L824.5,60.9 L819.5,63.4 L813.5,64.9 L807.5,65.1 L800.5,64.4 L781.5,59.9 L764.5,57.5 L750.5,54.5 L740.5,53.7 L735.5,53.9 L735.5,201.2 L739.5,204.4 L742.5,207.7 L752.3,222.0 L757.5,228.0 L764.5,233.7 L773.5,238.6 L783.0,242.0 L795.5,244.4 L824.5,247.0 L835.6,247.0ZM802.5,175.3 L796.5,175.9 L793.5,175.3 L791.4,174.0 L790.4,172.0 L790.6,169.0 L791.5,166.7 L793.5,164.3 L796.5,162.6 L799.5,162.4 L802.5,163.4 L804.5,165.1 L806.2,168.0 L806.5,171.1 L805.1,174.0 L802.5,175.3Z" fill="#fbaa06" fill-rule="evenodd"/>
<path d="M833.5,246.0 L841.5,244.8 L848.5,242.3 L852.9,239.0 L856.7,234.0 L858.9,229.0 L859.7,224.0 L859.5,218.1 L857.8,209.0 L858.4,205.0 L864.3,193.0 L869.4,181.0 L873.9,173.0 L877.5,167.8 L880.5,165.3 L883.5,164.1 L896.5,162.5 L905.5,160.1 L912.5,157.1 L918.5,153.6 L926.5,147.5 L933.5,140.6 L940.3,132.0 L945.8,123.0 L950.4,113.0 L953.8,103.0 L956.3,92.0 L957.5,81.3 L957.6,71.0 L956.2,49.0 L955.1,43.0 L951.8,32.0 L951.5,24.0 L858.5,24.0 L852.3,36.0 L838.5,57.3 L829.5,67.1 L825.5,70.3 L822.5,72.0 L816.5,73.5 L809.5,73.7 L778.5,70.1 L757.5,70.0 L750.5,70.6 L746.5,71.5 L743.9,73.0 L742.5,75.0 L741.9,78.0 L742.1,87.0 L741.6,91.0 L739.9,95.0 L735.5,101.1 L735.5,196.1 L739.5,198.9 L742.5,202.3 L753.5,219.7 L758.5,225.9 L765.5,231.9 L773.5,236.7 L782.5,240.3 L794.9,243.0 L822.5,245.8 L833.5,246.0ZM798.5,178.1 L793.5,177.9 L789.5,176.5 L787.1,174.0 L786.6,171.0 L787.6,166.0 L790.2,162.0 L794.4,159.0 L798.5,158.1 L802.5,158.8 L806.5,161.3 L809.5,165.3 L810.5,170.0 L809.9,173.0 L807.5,175.7 L803.5,177.3 L798.5,178.1Z" fill="#fbbf12" fill-rule="evenodd"/>
<path d="M831.1,245.0 L839.5,244.0 L846.5,241.7 L851.5,238.2 L855.6,233.0 L857.7,228.0 L858.5,222.0 L858.0,217.0 L855.7,207.0 L856.3,202.0 L865.0,181.0 L870.8,170.0 L874.4,165.0 L877.5,162.6 L880.5,161.4 L894.9,160.0 L903.5,158.0 L910.5,155.2 L916.5,151.9 L924.6,146.0 L932.5,138.2 L938.9,130.0 L944.5,120.6 L949.2,110.0 L952.5,99.5 L954.5,89.0 L955.4,77.0 L954.9,66.0 L952.9,50.0 L950.8,43.0 L946.0,32.0 L945.1,24.0 L864.2,24.0 L849.6,46.0 L836.5,69.2 L832.5,74.3 L827.5,78.6 L822.5,81.1 L816.5,82.2 L780.5,80.2 L771.5,80.9 L764.5,82.6 L760.5,84.6 L757.5,87.1 L749.2,98.0 L735.5,113.5 L735.5,190.1 L740.5,193.5 L742.9,196.0 L756.4,220.0 L761.6,226.0 L767.6,231.0 L775.5,235.7 L782.5,238.7 L789.5,240.6 L799.5,242.3 L822.5,244.8 L831.1,245.0ZM798.5,180.0 L792.5,179.8 L786.5,177.7 L784.1,175.0 L783.4,170.0 L784.9,164.0 L788.5,158.8 L793.5,155.4 L799.5,154.3 L804.5,155.5 L809.6,159.0 L813.0,164.0 L814.4,170.0 L813.4,174.0 L811.5,176.2 L806.5,178.3 L798.5,180.0Z" fill="#fcd41e" fill-rule="evenodd"/>
<path d="M838.0,243.0 L844.5,241.0 L849.5,238.0 L853.1,234.0 L855.5,229.6 L856.8,225.0 L857.0,220.0 L856.2,215.0 L853.3,205.0 L853.4,199.0 L858.8,181.0 L865.8,167.0 L868.5,163.0 L871.5,160.4 L875.5,158.6 L880.5,157.6 L893.5,156.9 L899.5,155.9 L908.0,153.0 L915.6,149.0 L924.5,142.4 L932.5,134.1 L939.5,124.2 L944.5,114.7 L948.6,104.0 L951.5,92.0 L952.7,81.0 L952.6,70.0 L951.2,58.0 L949.5,49.8 L946.9,43.0 L940.7,31.0 L938.6,24.0 L870.5,24.0 L862.5,32.9 L854.3,44.0 L847.4,56.0 L836.5,79.5 L833.5,83.6 L828.5,88.0 L823.5,90.7 L818.5,91.7 L802.5,90.4 L786.5,90.2 L777.5,90.9 L769.5,92.8 L765.5,94.5 L760.5,98.1 L746.5,110.0 L739.5,117.2 L735.5,120.5 L735.5,183.2 L741.5,187.9 L745.5,192.5 L753.6,211.0 L757.0,217.0 L760.5,221.7 L765.8,227.0 L772.6,232.0 L779.9,236.0 L786.5,238.4 L799.5,241.1 L821.5,243.6 L830.5,243.9 L838.0,243.0ZM802.5,181.1 L794.5,181.9 L787.5,180.8 L784.5,179.5 L782.6,178.0 L780.7,174.0 L780.5,167.0 L781.6,163.0 L783.1,160.0 L785.5,156.8 L788.5,154.1 L791.5,152.2 L795.5,150.7 L799.5,150.4 L803.5,151.0 L807.5,152.6 L811.5,155.5 L813.5,157.9 L814.5,160.1 L818.2,171.0 L818.1,174.0 L815.6,177.0 L802.5,181.1Z" fill="#fbff21" fill-rule="evenodd"/>
<path d="M835.7,242.0 L842.9,240.0 L848.5,236.6 L852.9,231.0 L855.2,224.0 L855.3,220.0 L854.6,215.0 L849.9,201.0 L848.0,186.0 L844.5,175.0 L844.5,172.8 L845.9,170.0 L857.7,159.0 L864.5,154.8 L869.6,154.0 L890.5,153.2 L896.5,152.5 L905.4,150.0 L913.5,146.0 L922.5,139.5 L930.5,131.2 L937.5,121.2 L942.5,111.4 L946.5,100.0 L948.7,89.0 L949.6,77.0 L948.8,65.0 L947.2,55.0 L945.0,48.0 L941.5,41.0 L934.2,29.0 L932.0,24.0 L877.9,24.0 L871.5,29.2 L866.5,34.1 L860.5,41.3 L855.5,48.5 L851.5,55.4 L847.5,64.0 L837.5,90.8 L833.5,96.7 L829.5,100.3 L824.5,102.9 L818.5,104.2 L795.5,103.1 L777.5,103.7 L769.5,105.1 L762.5,107.8 L753.5,113.1 L735.5,127.4 L735.5,174.4 L741.5,179.4 L745.5,184.7 L748.5,190.6 L752.2,202.0 L755.2,209.0 L759.0,216.0 L762.7,221.0 L767.8,226.0 L774.5,231.0 L781.5,234.9 L786.5,236.8 L800.5,239.9 L818.5,242.1 L827.5,242.7 L835.7,242.0ZM800.5,183.1 L790.5,183.5 L785.5,182.6 L782.5,181.4 L780.5,180.0 L779.0,178.0 L777.5,174.0 L776.9,170.0 L777.0,166.0 L777.9,162.0 L779.8,158.0 L782.5,154.2 L785.7,151.0 L789.5,148.4 L793.5,146.7 L797.5,146.0 L802.5,146.2 L806.5,147.2 L810.5,149.0 L813.5,151.2 L814.6,153.0 L817.0,163.0 L819.1,168.0 L821.5,171.3 L825.4,174.0 L826.1,175.0 L824.3,177.0 L820.5,178.8 L800.5,183.1Z" fill="#e2ff29" fill-rule="evenodd"/>
<path d="M832.1,241.0 L840.5,239.1 L846.4,236.0 L850.7,231.0 L853.1,225.0 L853.5,219.0 L852.1,212.0 L847.5,201.5 L842.5,192.9 L838.5,188.6 L833.5,185.5 L828.5,183.4 L821.5,181.7 L814.5,181.8 L800.5,184.7 L794.5,185.4 L786.5,185.1 L780.5,183.7 L778.1,182.0 L776.5,180.0 L773.2,172.0 L772.3,165.0 L773.8,158.0 L776.5,153.0 L780.5,148.3 L784.5,144.7 L789.5,141.7 L793.5,140.3 L797.5,139.9 L809.5,141.3 L814.5,142.9 L816.5,144.6 L817.0,147.0 L817.0,156.0 L818.5,163.0 L821.5,168.2 L823.5,169.6 L825.5,169.7 L827.5,168.8 L829.8,166.0 L831.1,163.0 L833.5,154.1 L834.5,153.1 L838.5,151.5 L845.5,149.4 L858.5,147.0 L863.5,146.9 L877.5,148.1 L890.5,147.6 L897.5,146.7 L903.5,145.0 L909.5,142.4 L915.5,138.8 L920.5,134.8 L925.5,129.9 L930.5,123.7 L934.8,117.0 L938.3,110.0 L941.0,103.0 L943.2,95.0 L944.4,88.0 L945.1,80.0 L944.3,65.0 L943.0,57.0 L941.5,52.0 L936.9,43.0 L928.0,31.0 L923.8,24.0 L888.9,24.0 L878.5,30.4 L869.6,38.0 L864.5,43.7 L859.5,50.6 L855.5,57.5 L852.0,65.0 L847.2,79.0 L841.7,104.0 L840.0,109.0 L836.5,113.4 L828.5,119.4 L824.5,121.3 L820.5,121.7 L801.5,118.8 L785.5,118.8 L772.5,117.2 L766.5,117.6 L759.5,120.0 L752.5,123.9 L741.6,132.0 L738.5,135.0 L737.3,137.0 L736.4,142.0 L737.2,147.0 L741.8,160.0 L748.0,173.0 L754.6,201.0 L759.8,213.0 L765.5,220.9 L769.8,225.0 L775.5,229.3 L781.5,233.0 L786.5,235.1 L804.5,239.3 L822.5,241.2 L832.1,241.0Z" fill="#c6ff2d" fill-rule="evenodd"/>
<path d="M896.0,141.0 L903.5,138.9 L911.5,134.9 L919.2,129.0 L925.5,122.1 L930.9,114.0 L935.2,105.0 L938.1,96.0 L939.9,86.0 L940.3,76.0 L939.4,66.0 L937.4,57.0 L934.4,50.0 L928.5,41.6 L918.5,32.0 L913.5,28.5 L907.5,26.8 L902.5,27.0 L896.5,28.5 L888.5,31.8 L881.5,35.7 L875.5,40.1 L870.5,44.8 L865.5,50.8 L861.5,56.8 L856.1,68.0 L852.4,80.0 L851.0,88.0 L850.4,96.0 L851.3,119.0 L849.5,124.6 L844.7,132.0 L844.6,133.0 L845.5,134.3 L856.5,135.3 L874.5,141.4 L882.5,142.0 L896.0,141.0ZM766.3,142.0 L768.3,140.0 L768.8,138.0 L767.5,136.2 L765.5,135.9 L763.5,136.7 L762.1,138.0 L761.3,141.0 L761.8,142.0 L763.5,142.8 L766.3,142.0ZM826.9,166.0 L828.5,164.0 L829.7,161.0 L830.3,157.0 L830.1,153.0 L829.0,149.0 L827.5,146.4 L825.5,144.7 L823.5,144.4 L820.9,146.0 L819.3,149.0 L818.5,153.0 L818.7,158.0 L820.2,163.0 L822.3,166.0 L824.5,167.0 L826.9,166.0ZM834.5,239.0 L841.5,236.8 L846.5,233.2 L850.2,227.0 L851.5,221.0 L850.8,214.0 L847.7,206.0 L842.8,198.0 L837.5,192.3 L828.5,186.2 L823.5,184.2 L819.5,183.5 L812.5,183.8 L794.5,187.3 L779.5,186.8 L777.5,185.9 L775.2,184.0 L767.5,173.6 L764.5,170.6 L761.5,169.9 L759.5,171.1 L756.9,176.0 L755.5,182.1 L755.2,189.0 L756.2,197.0 L758.5,204.3 L762.5,213.0 L766.1,218.0 L770.9,223.0 L777.1,228.0 L783.7,232.0 L799.5,237.0 L805.5,238.2 L821.5,239.7 L828.5,239.8 L834.5,239.0Z" fill="#a5ff30" fill-rule="evenodd"/>
<path d="M895.9,135.0 L903.5,132.8 L910.5,129.1 L916.5,124.4 L922.3,118.0 L927.0,111.0 L930.9,103.0 L933.7,94.0 L935.1,85.0 L935.4,76.0 L934.5,67.9 L932.5,60.0 L929.4,53.0 L924.5,46.4 L918.5,41.0 L911.5,36.9 L905.5,35.2 L897.5,35.7 L888.5,38.6 L880.5,43.2 L872.8,50.0 L866.6,58.0 L861.7,67.0 L858.3,77.0 L856.5,87.0 L856.3,98.0 L858.2,109.0 L861.8,119.0 L866.8,127.0 L872.2,132.0 L878.5,135.0 L885.5,135.9 L895.9,135.0ZM825.9,163.0 L827.4,161.0 L828.0,159.0 L828.1,154.0 L826.5,149.9 L825.5,148.9 L823.5,148.5 L821.6,150.0 L820.7,152.0 L820.5,157.9 L822.5,162.5 L824.5,163.5 L825.9,163.0ZM829.1,238.0 L837.5,236.2 L843.4,233.0 L845.5,230.7 L847.5,227.2 L849.1,221.0 L848.5,214.0 L845.5,206.0 L840.5,198.4 L834.0,192.0 L826.5,187.3 L819.5,185.3 L812.5,185.3 L796.5,188.9 L778.5,190.6 L775.5,189.5 L769.5,184.2 L766.5,182.5 L763.5,182.5 L761.5,184.0 L759.5,187.7 L758.8,192.0 L759.2,197.0 L761.0,203.0 L766.5,214.3 L771.3,220.0 L776.9,225.0 L786.5,231.0 L801.5,236.0 L818.5,238.0 L829.1,238.0Z" fill="#87ff30" fill-rule="evenodd"/>
<path d="M895.8,129.0 L902.5,127.1 L908.5,123.9 L914.5,119.1 L919.1,114.0 L923.5,107.4 L926.9,100.0 L929.0,93.0 L930.3,85.0 L930.5,77.0 L929.4,69.0 L927.3,62.0 L924.3,56.0 L920.4,51.0 L915.5,46.8 L909.5,43.7 L903.5,42.4 L896.5,42.7 L888.5,45.2 L881.5,49.3 L875.5,54.7 L870.5,61.1 L866.2,69.0 L863.0,78.0 L861.5,87.0 L861.5,96.0 L863.0,105.0 L866.0,113.0 L870.5,120.0 L875.5,124.9 L881.5,128.2 L887.5,129.5 L895.8,129.0ZM829.4,236.0 L836.8,234.0 L841.6,231.0 L844.9,226.0 L846.5,219.0 L845.5,212.0 L841.9,204.0 L836.5,197.0 L829.5,191.1 L823.4,188.0 L816.5,186.7 L810.5,187.3 L785.5,192.7 L777.5,195.6 L774.5,194.6 L769.5,190.6 L767.5,189.7 L765.5,189.7 L763.5,191.3 L762.6,194.0 L763.1,198.0 L768.3,211.0 L774.3,219.0 L782.5,226.0 L790.0,230.0 L804.5,235.2 L820.5,236.4 L829.4,236.0Z" fill="#6cff30" fill-rule="evenodd"/>
<path d="M895.3,123.0 L900.5,121.7 L905.5,119.3 L910.5,115.7 L915.1,111.0 L919.2,105.0 L922.2,99.0 L924.2,93.0 L925.4,86.0 L925.6,79.0 L924.8,72.0 L923.0,66.0 L920.5,60.9 L916.8,56.0 L912.5,52.5 L907.5,50.0 L902.5,48.8 L896.5,49.0 L890.5,50.6 L884.5,53.9 L878.5,59.0 L873.8,65.0 L870.6,71.0 L868.0,78.0 L866.5,86.0 L866.4,94.0 L867.4,101.0 L869.9,108.0 L873.5,113.9 L878.5,118.8 L883.5,121.7 L889.5,123.2 L895.3,123.0ZM828.8,234.0 L835.5,231.8 L838.4,230.0 L840.3,228.0 L843.2,222.0 L843.6,216.0 L841.9,209.0 L838.0,202.0 L831.7,195.0 L825.5,190.8 L820.5,188.9 L815.5,188.5 L807.5,189.5 L799.5,191.4 L785.9,196.0 L783.0,198.0 L779.5,201.7 L774.5,203.5 L773.0,205.0 L772.8,208.0 L773.6,211.0 L777.1,217.0 L782.5,222.3 L790.0,227.0 L800.7,232.0 L805.5,233.6 L820.5,234.6 L828.8,234.0Z" fill="#59ff30" fill-rule="evenodd"/>
<path d="M894.0,117.0 L898.5,116.2 L903.5,114.1 L907.5,111.3 L911.5,107.4 L914.7,103.0 L917.4,98.0 L919.2,93.0 L920.5,87.0 L920.8,81.0 L920.1,75.0 L918.8,70.0 L916.5,65.3 L913.5,61.3 L909.6,58.0 L905.5,56.0 L901.5,55.1 L896.5,55.1 L891.5,56.5 L886.5,59.1 L881.9,63.0 L877.8,68.0 L875.0,73.0 L872.8,79.0 L871.5,85.0 L871.3,92.0 L872.1,98.0 L873.7,103.0 L876.5,108.2 L880.5,112.6 L884.5,115.2 L889.5,116.8 L894.0,117.0ZM827.6,232.0 L833.3,230.0 L837.2,227.0 L839.8,223.0 L840.9,217.0 L840.0,211.0 L837.5,205.2 L833.5,199.5 L828.5,194.8 L823.8,192.0 L819.5,190.6 L815.5,190.2 L809.5,190.5 L802.4,192.0 L793.6,195.0 L789.5,197.4 L785.9,201.0 L782.0,210.0 L781.4,213.0 L783.1,217.0 L787.5,221.0 L798.6,228.0 L805.5,231.2 L818.5,232.6 L827.6,232.0Z" fill="#4cff34" fill-rule="evenodd"/>
<path d="M898.5,110.0 L902.5,108.2 L905.5,106.0 L910.8,100.0 L914.5,92.0 L915.9,83.0 L915.5,78.0 L914.5,74.0 L912.7,70.0 L910.7,67.0 L905.5,62.8 L902.5,61.7 L898.5,61.1 L893.5,62.0 L889.5,63.8 L885.5,66.8 L882.6,70.0 L880.0,74.0 L877.8,79.0 L876.6,84.0 L876.2,89.0 L876.5,94.0 L877.9,99.0 L879.9,103.0 L882.5,106.3 L885.5,108.6 L889.5,110.3 L893.5,110.8 L898.5,110.0ZM824.8,230.0 L829.5,228.6 L833.6,226.0 L836.5,222.0 L837.7,217.0 L837.3,212.0 L835.6,207.0 L832.5,201.9 L827.9,197.0 L823.5,194.0 L819.5,192.5 L815.5,191.7 L811.5,191.6 L805.5,192.6 L798.0,195.0 L793.5,197.3 L790.3,200.0 L789.1,202.0 L788.2,205.0 L788.5,212.0 L790.9,217.0 L795.7,222.0 L801.5,226.2 L807.5,229.0 L816.5,230.3 L824.8,230.0Z" fill="#44ff3c" fill-rule="evenodd"/>
<path d="M897.7,104.0 L902.5,101.5 L906.7,97.0 L909.6,91.0 L910.8,84.0 L910.1,78.0 L907.5,72.5 L903.5,68.9 L898.5,67.4 L895.5,67.7 L892.5,68.7 L889.5,70.5 L886.5,73.4 L882.7,80.0 L881.2,88.0 L882.2,95.0 L883.5,98.0 L885.8,101.0 L888.5,103.1 L891.5,104.3 L894.5,104.6 L897.7,104.0ZM824.8,227.0 L828.5,225.5 L831.5,223.0 L833.8,219.0 L834.5,215.0 L834.1,211.0 L832.3,206.0 L829.0,201.0 L825.5,197.5 L821.5,194.9 L817.5,193.4 L813.5,192.9 L808.5,193.2 L802.5,194.5 L799.5,195.7 L795.8,198.0 L792.6,201.0 L791.5,203.0 L790.8,206.0 L791.5,211.0 L794.8,217.0 L799.5,221.7 L804.5,224.8 L811.5,227.2 L818.5,227.8 L824.8,227.0Z" fill="#40ff47" fill-rule="evenodd"/>
<path d="M895.7,98.0 L899.5,96.6 L902.3,94.0 L904.6,90.0 L905.6,86.0 L905.2,81.0 L903.5,77.3 L900.5,74.7 L897.5,73.9 L893.5,74.8 L890.5,77.1 L887.8,81.0 L886.4,86.0 L886.8,91.0 L888.7,95.0 L891.5,97.3 L895.7,98.0ZM821.9,225.0 L825.5,223.8 L828.5,221.8 L830.7,219.0 L831.8,216.0 L831.9,212.0 L830.9,208.0 L829.0,204.0 L825.9,200.0 L822.5,197.2 L819.5,195.6 L814.5,194.2 L810.5,193.9 L806.5,194.2 L802.5,195.2 L798.8,197.0 L796.5,198.8 L793.9,203.0 L793.2,208.0 L794.6,213.0 L798.1,218.0 L802.5,221.7 L808.5,224.4 L815.5,225.6 L821.9,225.0Z" fill="#40ff56" fill-rule="evenodd"/>
<path d="M897.2,90.0 L899.0,88.0 L899.6,85.0 L898.5,82.4 L896.5,81.5 L894.8,82.0 L893.5,83.2 L892.4,87.0 L893.0,89.0 L894.0,90.0 L895.5,90.5 L897.2,90.0ZM820.6,223.0 L823.5,221.9 L826.4,220.0 L828.1,218.0 L829.3,215.0 L829.5,212.0 L828.7,208.0 L826.8,204.0 L824.5,201.0 L818.5,196.5 L811.5,194.6 L807.5,194.7 L803.5,195.6 L800.3,197.0 L797.6,199.0 L795.1,203.0 L794.7,207.0 L796.0,212.0 L799.5,217.1 L804.5,221.0 L809.5,223.0 L815.5,223.7 L820.6,223.0Z" fill="#40ff64" fill-rule="evenodd"/>
<path d="M817.5,222.0 L822.5,220.4 L825.4,218.0 L826.8,216.0 L827.6,213.0 L827.5,210.0 L826.8,207.0 L824.8,203.0 L819.5,197.9 L813.5,195.5 L806.5,195.5 L802.5,196.7 L799.5,198.5 L796.5,202.0 L795.6,206.0 L796.6,211.0 L798.9,215.0 L803.5,219.2 L807.5,221.2 L812.5,222.3 L817.5,222.0Z" fill="#40ff73" fill-rule="evenodd"/>
<path d="M818.5,221.0 L821.5,219.8 L824.0,218.0 L825.6,216.0 L826.6,213.0 L826.6,210.0 L825.9,207.0 L822.5,201.3 L817.5,197.4 L811.5,195.8 L805.5,196.4 L802.5,197.5 L799.5,199.6 L797.1,203.0 L796.5,207.0 L797.9,212.0 L800.5,215.8 L804.4,219.0 L808.5,220.8 L813.5,221.6 L818.5,221.0Z" fill="#40ff85" fill-rule="evenodd"/>
<path d="M819.0,220.0 L823.6,217.0 L824.9,215.0 L825.7,212.0 L825.6,209.0 L824.7,206.0 L821.5,201.1 L817.3,198.0 L811.5,196.4 L805.5,197.1 L800.2,200.0 L798.1,203.0 L797.3,207.0 L798.7,212.0 L801.5,215.9 L805.5,218.9 L809.5,220.4 L814.5,220.9 L819.0,220.0Z" fill="#40ff97" fill-rule="evenodd"/>
<path d="M815.8,220.0 L821.0,218.0 L823.1,216.0 L824.3,214.0 L824.7,209.0 L822.8,204.0 L818.5,199.4 L813.5,197.3 L808.5,197.0 L802.8,199.0 L799.6,202.0 L798.3,205.0 L798.4,209.0 L800.0,213.0 L802.5,216.0 L806.5,218.7 L811.5,220.1 L815.8,220.0Z" fill="#40ffa9" fill-rule="evenodd"/>
<path d="M816.9,219.0 L820.9,217.0 L822.7,215.0 L823.6,213.0 L823.7,208.0 L821.4,203.0 L817.5,199.5 L812.5,197.7 L807.5,197.8 L802.6,200.0 L799.9,203.0 L799.0,206.0 L799.4,210.0 L801.5,214.0 L804.5,216.9 L808.5,218.8 L812.5,219.5 L816.9,219.0Z" fill="#40ffbb" fill-rule="evenodd"/>
<path d="M817.5,218.0 L821.6,215.0 L823.1,211.0 L822.3,206.0 L819.7,202.0 L815.5,199.1 L811.5,198.1 L806.5,198.8 L802.6,201.0 L800.4,204.0 L799.7,207.0 L800.5,211.0 L802.5,214.2 L805.5,216.8 L809.5,218.5 L813.5,218.9 L817.5,218.0Z" fill="#40ffcd" fill-rule="evenodd"/>
<path d="M814.8,218.0 L819.3,216.0 L821.7,213.0 L822.2,209.0 L821.0,205.0 L818.5,201.7 L814.5,199.3 L809.5,198.7 L805.1,200.0 L802.5,202.0 L800.8,205.0 L800.7,209.0 L801.7,212.0 L804.1,215.0 L807.5,217.2 L811.5,218.2 L814.8,218.0Z" fill="#40ffed" fill-rule="evenodd"/>
<path d="M815.8,217.0 L819.2,215.0 L821.1,212.0 L821.3,208.0 L819.7,204.0 L816.5,200.9 L812.5,199.4 L808.5,199.4 L804.7,201.0 L802.6,203.0 L801.3,206.0 L801.3,209.0 L803.1,213.0 L805.5,215.4 L809.5,217.3 L812.5,217.6 L815.8,217.0Z" fill="#3cf3ff" fill-rule="evenodd"/>
<path d="M816.5,216.0 L819.5,213.5 L820.7,210.0 L820.1,206.0 L818.2,203.0 L815.5,200.9 L811.5,199.8 L807.5,200.3 L804.4,202.0 L802.8,204.0 L801.9,207.0 L802.2,210.0 L803.8,213.0 L806.5,215.4 L809.5,216.7 L813.5,216.9 L816.5,216.0Z" fill="#34dcff" fill-rule="evenodd"/>
<path d="M814.7,216.0 L817.5,214.5 L819.5,212.0 L820.0,209.0 L818.9,205.0 L816.5,202.2 L813.5,200.7 L809.5,200.4 L806.5,201.3 L804.3,203.0 L802.7,206.0 L802.6,209.0 L803.5,211.4 L805.5,214.0 L808.5,215.8 L811.5,216.4 L814.7,216.0Z" fill="#30beff" fill-rule="evenodd"/>
<path d="M815.4,215.0 L818.0,213.0 L819.2,210.0 L819.0,207.0 L817.5,204.0 L814.5,201.7 L811.5,200.9 L808.5,201.2 L805.5,202.8 L803.8,205.0 L803.2,208.0 L804.0,211.0 L805.3,213.0 L807.5,214.7 L810.5,215.7 L813.5,215.6 L815.4,215.0Z" fill="#309cff" fill-rule="evenodd"/>
<path d="M813.4,215.0 L815.8,214.0 L817.7,212.0 L818.6,209.0 L818.0,206.0 L816.5,203.8 L813.9,202.0 L811.5,201.4 L808.5,201.8 L806.3,203.0 L804.6,205.0 L804.0,207.0 L804.2,210.0 L805.5,212.3 L807.5,214.0 L810.5,215.1 L813.4,215.0Z" fill="#3084ff" fill-rule="evenodd"/>
<path d="M814.3,214.0 L816.5,212.4 L817.7,210.0 L817.6,207.0 L816.7,205.0 L814.6,203.0 L812.5,202.2 L810.5,202.0 L807.5,203.0 L805.5,204.9 L804.7,207.0 L805.4,211.0 L807.1,213.0 L809.5,214.2 L811.5,214.5 L814.3,214.0Z" fill="#2e6aff" fill-rule="evenodd"/>
<path d="M814.6,213.0 L816.9,210.0 L816.8,207.0 L815.8,205.0 L812.5,203.0 L809.5,203.1 L807.5,204.2 L806.0,206.0 L805.5,207.6 L805.5,209.1 L806.5,211.3 L808.2,213.0 L810.5,213.7 L814.6,213.0Z" fill="#2246ff" fill-rule="evenodd"/>
<path d="M813.9,212.0 L815.0,211.0 L815.8,209.0 L815.0,206.0 L813.5,204.6 L811.5,204.1 L808.5,205.0 L807.5,206.0 L806.8,208.0 L807.7,211.0 L810.5,212.7 L813.9,212.0Z" fill="#192cff" fill-rule="evenodd"/>
<path d="M812.4,211.0 L814.1,209.0 L813.8,207.0 L812.5,205.8 L810.5,205.7 L808.8,207.0 L808.5,209.3 L810.1,211.0 L812.4,211.0Z" fill="#1114ff" fill-rule="evenodd"/>
<path d="M811.6,209.0 L812.1,208.0 L811.5,207.4 L810.5,207.6 L810.5,208.8 L811.6,209.0" fill="none" stroke="#3a3a3a" stroke-opacity="0.55" stroke-width="0.6"/>
<path d="M814.6,213.0 L816.9,210.0 L816.8,207.0 L815.8,205.0 L812.5,203.0 L809.5,203.1 L807.5,204.2 L806.0,206.0 L805.5,207.6 L805.5,209.1 L806.5,211.3 L808.2,213.0 L810.5,213.7 L814.6,213.0" fill="none" stroke="#3a3a3a" stroke-opacity="0.55" stroke-width="0.6"/>
<path d="M814.9,215.0 L817.5,213.2 L818.7,211.0 L819.0,208.0 L817.9,205.0 L815.5,202.4 L812.5,201.2 L809.5,201.1 L806.5,202.3 L804.5,204.3 L803.5,207.0 L803.8,210.0 L804.8,212.0 L806.8,214.0 L809.5,215.3 L812.5,215.6 L814.9,215.0" fill="none" stroke="#3a3a3a" stroke-opacity="0.55" stroke-width="0.6"/>
<path d="M814.1,217.0 L817.5,215.7 L820.1,213.0 L821.0,210.0 L820.3,206.0 L818.4,203.0 L814.5,200.3 L810.5,199.6 L806.5,200.4 L804.1,202.0 L802.1,205.0 L801.6,208.0 L802.4,211.0 L804.5,214.0 L807.5,216.1 L810.5,217.1 L814.1,217.0" fill="none" stroke="#3a3a3a" stroke-opacity="0.55" stroke-width="0.6"/>
<path d="M817.5,218.0 L821.6,215.0 L823.1,211.0 L822.3,206.0 L819.7,202.0 L815.5,199.1 L811.5,198.1 L806.5,198.8 L802.6,201.0 L800.4,204.0 L799.7,207.0 L800.5,211.0 L802.5,214.2 L805.5,216.8 L809.5,218.5 L813.5,218.9 L817.5,218.0" fill="none" stroke="#3a3a3a" stroke-opacity="0.55" stroke-width="0.6"/>
<path d="M818.1,220.0 L820.5,219.0 L823.2,217.0 L825.3,213.0 L825.4,210.0 L824.8,207.0 L822.0,202.0 L817.5,198.3 L811.5,196.6 L805.5,197.3 L800.6,200.0 L798.4,203.0 L797.6,207.0 L798.5,211.0 L800.9,215.0 L804.3,218.0 L808.5,219.9 L813.5,220.7 L818.1,220.0" fill="none" stroke="#3a3a3a" stroke-opacity="0.55" stroke-width="0.6"/>
<path d="M819.0,222.0 L820.5,221.7 L824.5,219.6 L826.1,218.0 L827.9,214.0 L828.1,211.0 L827.2,207.0 L825.1,203.0 L823.4,201.0 L818.4,197.0 L815.5,195.8 L811.5,195.0 L804.5,195.8 L801.4,197.0 L798.4,199.0 L795.7,203.0 L795.3,207.0 L796.3,211.0 L799.5,216.0 L803.5,219.6 L807.5,221.5 L813.5,222.7 L819.0,222.0" fill="none" stroke="#3a3a3a" stroke-opacity="0.55" stroke-width="0.6"/>
<path d="M897.7,104.0 L902.5,101.5 L906.7,97.0 L909.6,91.0 L910.8,84.0 L910.1,78.0 L907.5,72.5 L903.5,68.9 L898.5,67.4 L895.5,67.7 L892.5,68.7 L889.5,70.5 L886.5,73.4 L882.7,80.0 L881.2,88.0 L882.2,95.0 L883.5,98.0 L885.8,101.0 L888.5,103.1 L891.5,104.3 L894.5,104.6 L897.7,104.0M824.8,227.0 L828.5,225.5 L831.5,223.0 L833.8,219.0 L834.5,215.0 L834.1,211.0 L832.3,206.0 L829.0,201.0 L825.5,197.5 L821.5,194.9 L817.5,193.4 L813.5,192.9 L808.5,193.2 L802.5,194.5 L799.5,195.7 L795.8,198.0 L792.6,201.0 L791.5,203.0 L790.8,206.0 L791.5,211.0 L794.8,217.0 L799.5,221.7 L804.5,224.8 L811.5,227.2 L818.5,227.8 L824.8,227.0" fill="none" stroke="#3a3a3a" stroke-opacity="0.55" stroke-width="0.6"/>
<path d="M895.0,121.0 L900.5,119.6 L905.5,117.2 L910.5,113.4 L914.5,109.1 L917.9,104.0 L920.9,98.0 L922.8,92.0 L923.9,85.0 L923.9,78.0 L923.0,72.0 L921.0,66.0 L918.5,61.3 L914.9,57.0 L911.0,54.0 L906.5,51.9 L901.5,50.9 L896.5,51.0 L890.5,52.7 L884.5,56.1 L879.5,60.5 L875.2,66.0 L871.9,72.0 L869.4,79.0 L868.1,86.0 L868.0,93.0 L869.0,100.0 L871.0,106.0 L874.5,112.0 L878.5,116.2 L883.5,119.3 L889.5,121.0 L895.0,121.0M829.9,233.0 L835.5,230.8 L839.8,227.0 L842.4,221.0 L842.6,215.0 L840.6,208.0 L836.4,201.0 L830.7,195.0 L824.5,190.9 L818.5,189.2 L812.5,189.2 L804.5,190.6 L793.5,193.8 L785.1,198.0 L780.5,203.7 L776.1,208.0 L776.0,211.0 L777.0,214.0 L781.6,220.0 L788.6,225.0 L800.4,231.0 L805.5,232.9 L815.5,233.7 L823.5,234.0 L829.9,233.0" fill="none" stroke="#3a3a3a" stroke-opacity="0.55" stroke-width="0.6"/>
<path d="M895.9,137.0 L903.5,134.8 L910.5,131.2 L917.5,125.8 L923.5,119.2 L928.5,111.7 L932.6,103.0 L935.3,94.0 L936.7,85.0 L937.0,75.0 L935.9,66.0 L933.8,58.0 L930.5,51.0 L925.5,44.4 L918.5,38.2 L911.5,34.0 L905.5,32.4 L897.5,33.3 L887.5,36.9 L879.0,42.0 L871.5,48.9 L865.3,57.0 L860.0,67.0 L856.6,77.0 L854.6,88.0 L854.5,99.0 L856.2,110.0 L860.1,122.0 L864.3,129.0 L870.5,134.3 L877.5,137.2 L884.5,138.0 L895.9,137.0M826.5,164.0 L828.6,160.0 L829.0,157.0 L828.7,153.0 L826.5,148.3 L825.5,147.5 L823.5,147.1 L821.5,148.4 L820.2,151.0 L819.6,154.0 L819.8,158.0 L820.7,161.0 L822.5,163.9 L824.5,164.8 L826.5,164.0M833.3,238.0 L839.9,236.0 L844.6,233.0 L848.5,227.0 L850.0,220.0 L849.1,213.0 L845.5,204.5 L840.2,197.0 L833.8,191.0 L825.5,186.2 L817.5,184.5 L811.2,185.0 L794.5,188.5 L778.5,189.2 L775.5,187.7 L769.5,181.9 L766.5,179.8 L763.5,179.3 L760.5,181.3 L758.5,185.3 L757.6,191.0 L758.0,196.0 L759.6,202.0 L762.5,209.0 L765.8,215.0 L770.5,220.4 L776.5,225.7 L781.5,229.2 L786.5,231.8 L802.5,236.7 L822.5,238.8 L833.3,238.0" fill="none" stroke="#3a3a3a" stroke-opacity="0.55" stroke-width="0.6"/>
<path d="M877.9,24.0 L871.5,29.2 L866.5,34.1 L860.5,41.3 L855.5,48.5 L851.5,55.4 L847.5,64.0 L837.5,90.8 L833.5,96.7 L829.5,100.3 L824.5,102.9 L818.5,104.2 L795.5,103.1 L777.5,103.7 L769.5,105.1 L762.5,107.8 L753.5,113.1 L735.5,127.4M735.5,174.4 L741.5,179.4 L746.5,186.5 L749.0,192.0 L753.8,206.0 L757.2,213.0 L760.3,218.0 L767.8,226.0 L777.8,233.0 L784.5,236.1 L795.7,239.0 L803.5,240.4 L822.5,242.5 L829.5,242.6 L836.5,241.8 L842.9,240.0 L847.5,237.4 L850.9,234.0 L853.4,230.0 L854.8,226.0 L855.4,221.0 L854.4,214.0 L849.7,200.0 L847.8,185.0 L844.5,175.0 L844.5,172.8 L845.9,170.0 L857.7,159.0 L864.5,154.8 L869.6,154.0 L890.5,153.2 L896.5,152.5 L905.5,149.9 L914.5,145.4 L923.5,138.6 L931.5,130.0 L938.5,119.5 L943.5,108.9 L947.2,97.0 L949.1,86.0 L949.6,75.0 L948.6,63.0 L947.0,54.0 L944.6,47.0 L934.2,29.0 L932.0,24.0M800.5,183.1 L790.5,183.5 L785.5,182.6 L782.5,181.4 L780.5,180.0 L779.0,178.0 L777.5,174.0 L776.9,170.0 L777.0,166.0 L777.9,162.0 L779.8,158.0 L782.5,154.2 L785.7,151.0 L789.5,148.4 L793.5,146.7 L797.5,146.0 L802.5,146.2 L806.5,147.2 L810.5,149.0 L813.5,151.2 L814.6,153.0 L817.0,163.0 L819.1,168.0 L821.5,171.3 L825.4,174.0 L826.1,175.0 L824.3,177.0 L820.5,178.8 L800.5,183.1" fill="none" stroke="#3a3a3a" stroke-opacity="0.55" stroke-width="0.6"/>
<path d="M860.3,24.0 L855.4,33.0 L838.5,60.2 L832.5,67.6 L825.5,73.7 L820.5,75.7 L813.5,76.6 L775.5,73.5 L763.5,74.2 L755.0,76.0 L751.5,77.8 L749.6,80.0 L745.0,94.0 L735.5,106.0M735.5,194.3 L739.5,196.9 L742.5,200.2 L754.0,219.0 L759.6,226.0 L768.3,233.0 L778.5,238.3 L786.5,240.9 L796.5,242.8 L827.5,245.7 L834.5,245.5 L841.5,244.4 L846.5,242.7 L851.0,240.0 L856.1,234.0 L858.9,227.0 L859.3,220.0 L857.1,208.0 L858.1,203.0 L868.0,181.0 L875.7,168.0 L878.5,165.1 L881.5,163.5 L896.5,161.6 L906.1,159.0 L913.5,155.6 L920.5,151.3 L928.5,144.7 L936.4,136.0 L942.5,127.3 L947.9,117.0 L951.5,108.0 L954.5,97.6 L956.3,87.0 L956.9,77.0 L955.0,49.0 L953.6,43.0 L949.7,32.0 L949.4,24.0M802.5,178.1 L796.5,178.8 L791.5,178.2 L787.5,176.3 L785.9,174.0 L785.6,169.0 L787.3,164.0 L790.5,160.0 L794.5,157.6 L799.5,156.8 L804.5,158.3 L808.5,161.5 L811.2,166.0 L811.8,170.0 L810.7,174.0 L808.5,176.1 L802.5,178.1" fill="none" stroke="#3a3a3a" stroke-opacity="0.55" stroke-width="0.6"/>
<path d="M845.0,24.0 L842.4,30.0 L839.5,34.3 L825.4,47.0 L820.5,50.4 L816.5,52.4 L812.5,53.5 L807.5,54.1 L801.5,53.6 L795.5,52.2 L788.5,49.5 L778.5,44.6 L771.5,39.9 L758.7,29.0 L753.8,24.0M984.5,25.3 L984.1,24.0M735.5,207.8 L742.4,214.0 L751.3,226.0 L757.5,232.1 L766.5,238.0 L778.5,242.9 L795.5,246.3 L831.5,248.7 L838.5,248.4 L844.5,247.5 L849.5,246.0 L853.2,244.0 L856.3,241.0 L858.4,238.0 L861.9,230.0 L862.8,223.0 L862.3,213.0 L863.6,208.0 L875.5,184.5 L883.4,173.0 L885.5,171.0 L888.5,169.6 L900.5,167.2 L908.5,164.5 L914.5,161.7 L920.8,158.0 L927.5,152.9 L934.5,146.3 L940.5,139.3 L946.2,131.0 L950.5,123.4 L954.3,115.0 L957.4,106.0 L959.5,98.1 L961.7,84.0 L961.9,63.0 L962.9,58.0 L970.5,43.9 L973.5,39.6 L976.5,37.2 L982.5,34.8 L984.5,33.3" fill="none" stroke="#3a3a3a" stroke-opacity="0.55" stroke-width="0.6"/>
<path d="M824.9,24.0 L812.0,32.0 L808.5,33.5 L805.5,34.0 L802.5,33.3 L799.5,31.5 L796.5,28.6 L793.0,24.0M735.5,221.5 L748.5,234.0 L754.5,238.6 L763.4,243.0 L776.5,247.2 L794.5,250.2 L804.5,250.5 L814.5,251.7 L825.5,251.8 L836.5,252.9 L851.5,252.0 L855.5,251.2 L858.5,249.8 L861.5,247.0 L863.8,242.0 L866.7,228.0 L868.2,217.0 L869.4,213.0 L881.2,189.0 L886.5,181.9 L891.8,176.0 L895.6,174.0 L910.5,169.0 L921.5,163.1 L933.1,154.0 L943.5,142.4 L948.7,135.0 L953.5,126.6 L957.5,118.0 L961.1,108.0 L965.1,91.0 L966.6,70.0 L967.5,65.9 L969.5,63.4 L973.5,60.3 L979.5,56.3 L984.5,53.8M984.5,245.6 L980.5,248.5 L978.3,252.0 L977.8,257.0 L979.5,262.0" fill="none" stroke="#3a3a3a" stroke-opacity="0.55" stroke-width="0.6"/>
<path d="M866.1,262.0 L870.3,260.0 L874.0,257.0 L877.1,253.0 L878.5,250.0 L879.1,245.0 L877.8,231.0 L878.5,222.0 L880.7,213.0 L887.5,195.5 L903.9,178.0 L919.5,169.4 L927.5,164.0 L936.8,156.0 L944.9,147.0 L952.0,137.0 L957.0,128.0 L961.9,117.0 L967.5,102.1 L971.3,95.0 L972.5,91.0 L972.9,82.0 L973.5,79.0 L974.5,77.6 L976.6,76.0 L984.5,73.9M984.5,233.6 L974.5,239.0 L971.0,242.0 L968.4,245.0 L966.7,248.0 L965.3,252.0 L964.8,256.0 L965.0,262.0M735.5,242.0 L742.5,246.6 L753.5,249.8 L764.5,251.1 L774.5,253.3 L785.5,254.1 L796.5,256.2 L804.5,256.4 L812.5,257.5 L826.5,257.3 L845.1,262.0" fill="none" stroke="#3a3a3a" stroke-opacity="0.55" stroke-width="0.6"/>
</g>
<rect x="735.5" y="24" width="248.1" height="237.6" fill="none" stroke="#000" stroke-width="1.6"/>
<line x1="735.60" y1="261.60" x2="735.60" y2="265.60" stroke="#000" stroke-width="1.3"/>
<line x1="749.62" y1="261.60" x2="749.62" y2="264.10" stroke="#000" stroke-width="1.3"/>
<line x1="763.63" y1="261.60" x2="763.63" y2="265.60" stroke="#000" stroke-width="1.3"/>
<line x1="777.64" y1="261.60" x2="777.64" y2="264.10" stroke="#000" stroke-width="1.3"/>
<line x1="791.66" y1="261.60" x2="791.66" y2="265.60" stroke="#000" stroke-width="1.3"/>
<line x1="805.68" y1="261.60" x2="805.68" y2="264.10" stroke="#000" stroke-width="1.3"/>
<line x1="819.69" y1="261.60" x2="819.69" y2="265.60" stroke="#000" stroke-width="1.3"/>
<line x1="833.71" y1="261.60" x2="833.71" y2="264.10" stroke="#000" stroke-width="1.3"/>
<line x1="847.72" y1="261.60" x2="847.72" y2="265.60" stroke="#000" stroke-width="1.3"/>
<line x1="861.74" y1="261.60" x2="861.74" y2="264.10" stroke="#000" stroke-width="1.3"/>
<line x1="875.75" y1="261.60" x2="875.75" y2="265.60" stroke="#000" stroke-width="1.3"/>
<line x1="889.77" y1="261.60" x2="889.77" y2="264.10" stroke="#000" stroke-width="1.3"/>
<line x1="903.78" y1="261.60" x2="903.78" y2="265.60" stroke="#000" stroke-width="1.3"/>
<line x1="917.80" y1="261.60" x2="917.80" y2="264.10" stroke="#000" stroke-width="1.3"/>
<line x1="931.81" y1="261.60" x2="931.81" y2="265.60" stroke="#000" stroke-width="1.3"/>
<line x1="945.83" y1="261.60" x2="945.83" y2="264.10" stroke="#000" stroke-width="1.3"/>
<line x1="959.84" y1="261.60" x2="959.84" y2="265.60" stroke="#000" stroke-width="1.3"/>
<line x1="973.86" y1="261.60" x2="973.86" y2="264.10" stroke="#000" stroke-width="1.3"/>
<text class="S" x="735.6" y="285.0" font-size="18" text-anchor="middle" textLength="11.6" lengthAdjust="spacingAndGlyphs" fill="#111">0</text>
<text class="S" x="763.6" y="285.0" font-size="18" text-anchor="middle" textLength="11.6" lengthAdjust="spacingAndGlyphs" fill="#111">1</text>
<text class="S" x="791.7" y="285.0" font-size="18" text-anchor="middle" textLength="11.6" lengthAdjust="spacingAndGlyphs" fill="#111">2</text>
<text class="S" x="819.7" y="285.0" font-size="18" text-anchor="middle" textLength="11.6" lengthAdjust="spacingAndGlyphs" fill="#111">3</text>
<text class="S" x="847.7" y="285.0" font-size="18" text-anchor="middle" textLength="11.6" lengthAdjust="spacingAndGlyphs" fill="#111">4</text>
<text class="S" x="875.8" y="285.0" font-size="18" text-anchor="middle" textLength="11.6" lengthAdjust="spacingAndGlyphs" fill="#111">5</text>
<text class="S" x="903.8" y="285.0" font-size="18" text-anchor="middle" textLength="11.6" lengthAdjust="spacingAndGlyphs" fill="#111">6</text>
<text class="S" x="931.8" y="285.0" font-size="18" text-anchor="middle" textLength="11.6" lengthAdjust="spacingAndGlyphs" fill="#111">7</text>
<text class="S" x="959.8" y="285.0" font-size="18" text-anchor="middle" textLength="11.6" lengthAdjust="spacingAndGlyphs" fill="#111">8</text>
<text class="S" x="775.7" y="314.8" font-size="20" textLength="181" lengthAdjust="spacingAndGlyphs" fill="#111">N-C Distance (nm)</text>
<text class="S" x="692.0" y="28.0" font-size="28" fill="#111">(c)</text>
<rect x="995" y="256.40" width="20.4" height="5.50" fill="#000000"/>
<rect x="995" y="250.62" width="20.4" height="6.08" fill="#0606ef"/>
<rect x="995" y="244.85" width="20.4" height="6.08" fill="#1114ff"/>
<rect x="995" y="239.07" width="20.4" height="6.07" fill="#192cff"/>
<rect x="995" y="233.30" width="20.4" height="6.08" fill="#2246ff"/>
<rect x="995" y="227.52" width="20.4" height="6.08" fill="#2e6aff"/>
<rect x="995" y="221.75" width="20.4" height="6.08" fill="#3084ff"/>
<rect x="995" y="215.97" width="20.4" height="6.08" fill="#309cff"/>
<rect x="995" y="210.20" width="20.4" height="6.07" fill="#30beff"/>
<rect x="995" y="204.42" width="20.4" height="6.08" fill="#34dcff"/>
<rect x="995" y="198.65" width="20.4" height="6.08" fill="#3cf3ff"/>
<rect x="995" y="192.87" width="20.4" height="6.08" fill="#40ffed"/>
<rect x="995" y="187.10" width="20.4" height="6.08" fill="#40ffcd"/>
<rect x="995" y="181.32" width="20.4" height="6.07" fill="#40ffbb"/>
<rect x="995" y="175.55" width="20.4" height="6.08" fill="#40ffa9"/>
<rect x="995" y="169.77" width="20.4" height="6.07" fill="#40ff97"/>
<rect x="995" y="164.00" width="20.4" height="6.08" fill="#40ff85"/>
<rect x="995" y="158.22" width="20.4" height="6.08" fill="#40ff73"/>
<rect x="995" y="152.45" width="20.4" height="6.07" fill="#40ff64"/>
<rect x="995" y="146.67" width="20.4" height="6.08" fill="#40ff56"/>
<rect x="995" y="140.90" width="20.4" height="6.07" fill="#40ff47"/>
<rect x="995" y="135.12" width="20.4" height="6.08" fill="#44ff3c"/>
<rect x="995" y="129.35" width="20.4" height="6.08" fill="#4cff34"/>
<rect x="995" y="123.57" width="20.4" height="6.08" fill="#59ff30"/>
<rect x="995" y="117.80" width="20.4" height="6.07" fill="#6cff30"/>
<rect x="995" y="112.02" width="20.4" height="6.08" fill="#87ff30"/>
<rect x="995" y="106.25" width="20.4" height="6.08" fill="#a5ff30"/>
<rect x="995" y="100.47" width="20.4" height="6.08" fill="#c6ff2d"/>
<rect x="995" y="94.70" width="20.4" height="6.08" fill="#e2ff29"/>
<rect x="995" y="88.92" width="20.4" height="6.07" fill="#fbff21"/>
<rect x="995" y="83.15" width="20.4" height="6.08" fill="#fcd41e"/>
<rect x="995" y="77.37" width="20.4" height="6.08" fill="#fbbf12"/>
<rect x="995" y="71.60" width="20.4" height="6.08" fill="#fbaa06"/>
<rect x="995" y="65.82" width="20.4" height="6.08" fill="#fb9800"/>
<rect x="995" y="60.05" width="20.4" height="6.07" fill="#f98700"/>
<rect x="995" y="54.27" width="20.4" height="6.08" fill="#f76900"/>
<rect x="995" y="48.50" width="20.4" height="6.08" fill="#f54c00"/>
<rect x="995" y="42.72" width="20.4" height="6.08" fill="#f53700"/>
<rect x="995" y="36.95" width="20.4" height="6.08" fill="#f52300"/>
<rect x="995" y="31.17" width="20.4" height="6.07" fill="#f41000"/>
<rect x="995" y="25.40" width="20.4" height="6.08" fill="#f20000"/>
<rect x="995" y="24.00" width="20.4" height="1.70" fill="#f20000"/>
<rect x="995" y="24" width="20.4" height="237.6" fill="none" stroke="#555" stroke-width="0.8"/>
<line x1="1015.40" y1="256.40" x2="1019.40" y2="256.40" stroke="#444" stroke-width="1.2"/>
<text class="S" x="1027.0" y="263.0" font-size="18" textLength="11.3" lengthAdjust="spacingAndGlyphs" fill="#111">0</text>
<line x1="1015.40" y1="217.90" x2="1019.40" y2="217.90" stroke="#444" stroke-width="1.2"/>
<text class="S" x="1027.0" y="224.5" font-size="18" textLength="11.3" lengthAdjust="spacingAndGlyphs" fill="#111">5</text>
<line x1="1015.40" y1="179.40" x2="1019.40" y2="179.40" stroke="#444" stroke-width="1.2"/>
<text class="S" x="1027.0" y="186.0" font-size="18" textLength="22.6" lengthAdjust="spacingAndGlyphs" fill="#111">10</text>
<line x1="1015.40" y1="140.90" x2="1019.40" y2="140.90" stroke="#444" stroke-width="1.2"/>
<text class="S" x="1027.0" y="147.5" font-size="18" textLength="22.6" lengthAdjust="spacingAndGlyphs" fill="#111">15</text>
<line x1="1015.40" y1="102.40" x2="1019.40" y2="102.40" stroke="#444" stroke-width="1.2"/>
<text class="S" x="1027.0" y="109.0" font-size="18" textLength="22.6" lengthAdjust="spacingAndGlyphs" fill="#111">20</text>
<line x1="1015.40" y1="63.90" x2="1019.40" y2="63.90" stroke="#444" stroke-width="1.2"/>
<text class="S" x="1027.0" y="70.5" font-size="18" textLength="22.6" lengthAdjust="spacingAndGlyphs" fill="#111">25</text>
<text class="S" x="935.5" y="13.2" font-size="15.5" font-weight="bold" fill="#111" textLength="142" lengthAdjust="spacingAndGlyphs">Free Energy (k<tspan font-size="12" dy="4">B</tspan><tspan dy="-4">T)</tspan></text>
<path d="M743.5,140.2 L775,152.5" stroke="#000" stroke-width="2.6" stroke-dasharray="6,5" fill="none"/>
<path d="M826,112.5 L848,135.5" stroke="#000" stroke-width="2.6" stroke-dasharray="6,5" fill="none"/>
<path d="M805,182.5 L836,191.8" stroke="#000" stroke-width="2.6" stroke-dasharray="6,5" fill="none"/>
<path d="M780,127 C786,124.5 790,123.5 797,125" stroke="#000" stroke-width="2.6" fill="none"/>
<path d="M810.3,134.6 L794.8,126.4 L801.4,119.6Z" fill="#000" stroke="#000" stroke-width="1" stroke-linejoin="round"/>
<path d="M765,135 C755,150 755,170 764,184 C771,194 778,198 784,200.5" stroke="#000" stroke-width="3" fill="none"/>
<path d="M795.5,207.5 L777.2,206.2 L783.4,193.6Z" fill="#000"/>
<path d="M826.5,150 C827,133 833,120 845,111 C852,106 860,102.5 871,99.5" stroke="#000" stroke-width="3" fill="none"/>
<path d="M886.0,95.5 L871.4,106.1 L868.0,94.6Z" fill="#000"/>
<path d="M816.5,198 L823.5,177" stroke="#8c8c8c" stroke-width="3" fill="none"/>
<path d="M826.5,169.5 L827.2,183.4 L817.7,180.3Z" fill="#8c8c8c"/>
<path d="M813.5,205.5 L812.8,191.6 L822.3,194.7Z" fill="#8c8c8c"/>
<rect x="695.2" y="118.5" width="84.4" height="17.3" fill="#fff"/>
<text class="R" x="737.4" y="132.8" font-size="15.5" font-weight="bold" text-anchor="middle" textLength="81.5" lengthAdjust="spacingAndGlyphs">Flexible TS1</text>
<rect x="811.4" y="92.4" width="26.7" height="17.1" fill="#fff"/>
<text class="R" x="824.8" y="105.6" font-size="16" font-weight="bold" text-anchor="middle" textLength="24.5" lengthAdjust="spacingAndGlyphs">TS2</text>
<rect x="841.9" y="183.7" width="26.2" height="16.6" fill="#fff"/>
<text class="R" x="855.0" y="196.8" font-size="16" font-weight="bold" text-anchor="middle" textLength="24.5" lengthAdjust="spacingAndGlyphs">TS1</text>
<rect x="894.2" y="80.6" width="12.0" height="17.7" fill="#fff"/>
<text class="R" x="900.2" y="95.6" font-size="16" font-weight="bold" text-anchor="middle">U</text>
<rect x="823.6" y="149.6" width="8.2" height="21.8" fill="#fff"/>
<text class="R" x="827.7" y="168.2" font-size="21" font-weight="bold" text-anchor="middle">I</text>
<rect x="800.3" y="208.0" width="11.9" height="17.5" fill="#fff"/>
<text class="R" x="806.2" y="221.8" font-size="16" font-weight="bold" text-anchor="middle">N</text>
<text class="S" x="0.5" y="332.0" font-size="28" fill="#111">(d)</text>
<text class="S" x="145.6" y="357.9" font-size="16" font-weight="bold" textLength="108" lengthAdjust="spacingAndGlyphs" fill="#000">Force &lt; 9 pN</text>
<path d="M122.6,399.1 C106,394 86,388 80,382 C74,376 90,369 120,366.5 C150,364 175,364 196,371.5 C202,374 206,377 209,378.8" stroke="#000" stroke-width="3.0" fill="none" />
<path d="M200.4,382.9 C185,376 165,370.5 145,370.6 C115,370.8 94,375 91,380 C89,384 100,386 114,388.6" stroke="#000" stroke-width="3.0" fill="none" />
<path d="M217.4,383.1 L205.3,382.5 L209.9,373.6Z" fill="#000"/>
<path d="M122.6,391.3 L110.7,393.1 L113.4,383.5Z" fill="#000"/>
<path d="M164.0,398.3 H192.4" stroke="#8c8c8c" stroke-width="2.6" stroke-dasharray="2.6,2.4" fill="none"/>
<path d="M200.4,398.3 L192.4,402.3 L192.4,394.3Z" fill="#8c8c8c"/>
<path d="M200.4,406.9 H172.0" stroke="#8c8c8c" stroke-width="2.6" stroke-dasharray="2.6,2.4" fill="none"/>
<path d="M164.0,406.9 L172.0,402.9 L172.0,410.9Z" fill="#8c8c8c"/>
<circle cx="143.8" cy="403.8" r="16" fill="#fff" stroke="#000" stroke-width="2.6"/>
<text class="R" x="143.8" y="413.1" font-size="26" font-weight="bold" text-anchor="middle">N</text>
<circle cx="224.0" cy="403.8" r="16" fill="#fff" stroke="#000" stroke-width="2.6"/>
<text class="R" x="224.0" y="413.1" font-size="26" font-weight="bold" text-anchor="middle">I</text>
<circle cx="314.1" cy="403.8" r="16" fill="#fff" stroke="#000" stroke-width="2.6"/>
<text class="R" x="314.1" y="413.1" font-size="26" font-weight="bold" text-anchor="middle">U</text>
<path d="M249.4,404.3 H280" stroke="#000" stroke-width="2.8" fill="none"/>
<path d="M289.6,404.3 L278.6,409.3 L278.6,399.3Z" fill="#000"/>
<path d="M270.5,371.0 V390.5 M265.5,375.7 H275.5 M265.5,385.0 H275.5" stroke="#ee1111" stroke-width="2" fill="none"/>
<path d="M143.8,425.0 V448.0" stroke="#000" stroke-width="2.6" stroke-dasharray="2.4,2.4" fill="none"/>
<path d="M270.5,415.0 V447.0" stroke="#000" stroke-width="2.6" stroke-dasharray="2.4,2.4" fill="none"/>
<path d="M270.7,458.1 L266.2,446.1 L275.2,446.1Z" fill="#000"/>
<text class="R" x="161.1" y="457.0" font-size="18" font-style="italic" fill="#222">x</text>
<text class="R" x="169.7" y="461.0" font-size="12" fill="#222">u</text>
<text class="S" x="181.0" y="457.0" font-size="16" textLength="71" lengthAdjust="spacingAndGlyphs" fill="#222">= 1.0 nm</text>
<text class="S" x="214.4" y="483.5" font-size="17" fill="#222" textLength="121" lengthAdjust="spacingAndGlyphs">&#916;G<tspan font-size="11" dy="-6">&#8225;</tspan><tspan dy="6"> = 21.5 k</tspan><tspan font-size="11" dy="4">B</tspan><tspan dy="-4">T</tspan></text>
<text class="S" x="235.2" y="509.4" font-size="16" textLength="89" lengthAdjust="spacingAndGlyphs" fill="#222">(Force = 0)</text>
<text class="S" x="474.2" y="357.1" font-size="16" font-weight="bold" textLength="155" lengthAdjust="spacingAndGlyphs" fill="#000">Force = 10 - 14 pN</text>
<path d="M475.1,399.1 C458.5,394 438.5,388 432.5,382 C426.5,376 442.5,369 472.5,366.5 C502.5,364 527.5,364 548.5,371.5 C554.5,374 558.5,377 561.5,378.8" stroke="#000" stroke-width="3.0" fill="none" />
<path d="M552.9,382.9 C537.5,376 517.5,370.5 497.5,370.6 C467.5,370.8 446.5,375 443.5,380 C441.5,384 452.5,386 466.5,388.6" stroke="#000" stroke-width="3.0" fill="none" />
<path d="M569.9,383.1 L557.8,382.5 L562.4,373.6Z" fill="#000"/>
<path d="M475.1,391.3 L463.2,393.1 L465.9,383.5Z" fill="#000"/>
<path d="M516.5,398.3 H544.9" stroke="#8c8c8c" stroke-width="2.6" stroke-dasharray="2.6,2.4" fill="none"/>
<path d="M552.9,398.3 L544.9,402.3 L544.9,394.3Z" fill="#8c8c8c"/>
<path d="M552.9,406.9 H524.5" stroke="#8c8c8c" stroke-width="2.6" stroke-dasharray="2.6,2.4" fill="none"/>
<path d="M516.5,406.9 L524.5,402.9 L524.5,410.9Z" fill="#8c8c8c"/>
<circle cx="496.5" cy="403.8" r="16" fill="#fff" stroke="#000" stroke-width="2.6"/>
<text class="R" x="496.5" y="413.1" font-size="26" font-weight="bold" text-anchor="middle">N</text>
<circle cx="576.5" cy="403.8" r="16" fill="#fff" stroke="#000" stroke-width="2.6"/>
<text class="R" x="576.5" y="413.1" font-size="26" font-weight="bold" text-anchor="middle">I</text>
<circle cx="665.6" cy="403.8" r="16" fill="#fff" stroke="#000" stroke-width="2.6"/>
<text class="R" x="665.6" y="413.1" font-size="26" font-weight="bold" text-anchor="middle">U</text>
<path d="M599.3,404.3 H630" stroke="#000" stroke-width="2.8" fill="none"/>
<path d="M639.6,404.3 L628.6,409.3 L628.6,399.3Z" fill="#000"/>
<path d="M421.3,367.0 V386.5 M416.3,371.7 H426.3 M416.3,381.0 H426.3" stroke="#ee1111" stroke-width="2" fill="none"/>
<path d="M430.3,393.0 V448.0" stroke="#000" stroke-width="2.6" stroke-dasharray="2.4,2.4" fill="none"/>
<path d="M496.5,426.5 V451.0" stroke="#000" stroke-width="2.6" stroke-dasharray="2.4,2.4" fill="none"/>
<text class="R" x="427.5" y="472.0" font-size="18" font-style="italic" fill="#222">x</text>
<text class="R" x="436.1" y="476.0" font-size="12" fill="#222">u</text>
<text class="S" x="447.5" y="472.0" font-size="16" textLength="55" lengthAdjust="spacingAndGlyphs" fill="#222">&lt; 0 nm</text>
<text class="S" x="839.1" y="355.9" font-size="16" font-weight="bold" textLength="118" lengthAdjust="spacingAndGlyphs" fill="#000">Force &gt; 14 pN</text>
<path d="M808.7,399.1 C792.1,394 772.1,388 766.1,382 C760.1,376 776.1,369 806.1,366.5 C836.1,364 861.1,364 882.1,371.5 C888.1,374 892.1,377 895.1,378.8" stroke="#000" stroke-width="2.8" fill="none" stroke-dasharray="2.2,2.2"/>
<path d="M858.1,372.5 C846.1,370.8 836.1,370.5 831.1,370.6 C801.1,370.8 780.1,375 777.1,380 C775.1,384 786.1,386 800.1,388.6" stroke="#000" stroke-width="2.8" fill="none" stroke-dasharray="2.2,2.2"/>
<rect x="859.5" y="362" width="15" height="30" fill="#fff"/>
<path d="M903.5,383.1 L891.4,382.5 L896.0,373.6Z" fill="#000"/>
<path d="M808.7,391.3 L796.8,393.1 L799.5,383.5Z" fill="#000"/>
<circle cx="829.9" cy="402.9" r="16" fill="#fff" stroke="#000" stroke-width="2.6"/>
<text class="R" x="829.9" y="412.2" font-size="26" font-weight="bold" text-anchor="middle">N</text>
<circle cx="909.7" cy="402.9" r="16" fill="#fff" stroke="#000" stroke-width="2.6"/>
<text class="R" x="909.7" y="412.2" font-size="26" font-weight="bold" text-anchor="middle">I</text>
<circle cx="1000.0" cy="402.9" r="16" fill="#fff" stroke="#000" stroke-width="2.6"/>
<text class="R" x="1000.0" y="412.2" font-size="26" font-weight="bold" text-anchor="middle">U</text>
<path d="M850.7,397.8 H880" stroke="#8c8c8c" stroke-width="2.4" fill="none"/>
<path d="M887.0,397.8 L879.0,401.8 L879.0,393.8Z" fill="#8c8c8c"/>
<path d="M886.6,406.9 H858" stroke="#8c8c8c" stroke-width="2.4" fill="none"/>
<path d="M850.7,406.9 L858.7,402.9 L858.7,410.9Z" fill="#8c8c8c"/>
<path d="M936.3,403 H966" stroke="#000" stroke-width="2.8" fill="none"/>
<path d="M975.7,403.0 L964.7,408.0 L964.7,398.0Z" fill="#000"/>
<path d="M866.9,371.0 V390.5 M861.9,375.7 H871.9 M861.9,385.0 H871.9" stroke="#ee1111" stroke-width="2" fill="none"/>
<path d="M830.3,423.0 V438.0" stroke="#000" stroke-width="2.6" stroke-dasharray="2.4,2.4" fill="none"/>
<path d="M873.8,422.0 V446.0" stroke="#000" stroke-width="2.6" stroke-dasharray="2.4,2.4" fill="none"/>
<path d="M873.8,456.7 L869.3,444.7 L878.3,444.7Z" fill="#000"/>
<text class="R" x="762.7" y="456.0" font-size="18" font-style="italic" fill="#222">x</text>
<text class="R" x="771.3" y="460.0" font-size="12" fill="#222">u</text>
<text class="S" x="783.0" y="456.0" font-size="16" textLength="80.5" lengthAdjust="spacingAndGlyphs" fill="#222">= 0.25 nm</text>
<text class="S" x="822.9" y="477.5" font-size="17" fill="#222" textLength="119" lengthAdjust="spacingAndGlyphs">&#916;G<tspan font-size="11" dy="-6">&#8225;</tspan><tspan dy="6"> = 20.7 k</tspan><tspan font-size="11" dy="4">B</tspan><tspan dy="-4">T</tspan></text>
<text class="S" x="839.1" y="503.0" font-size="16" textLength="88" lengthAdjust="spacingAndGlyphs" fill="#222">(Force = 0)</text>
</svg></body></html>
